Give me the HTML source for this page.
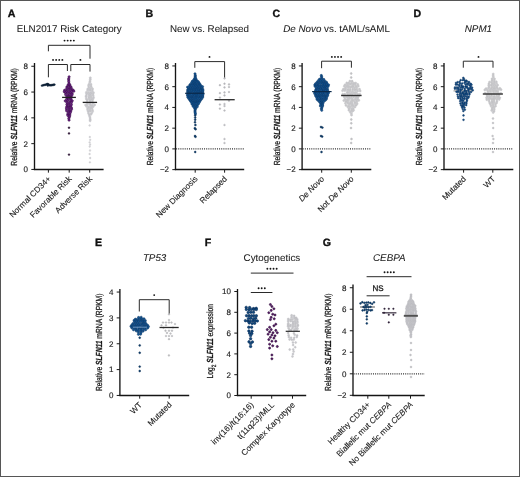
<!DOCTYPE html>
<html><head><meta charset="utf-8"><style>
html,body{margin:0;padding:0;background:#fff;width:520px;height:477px;overflow:hidden;}
svg{will-change:transform;display:block;font-family:"Liberation Sans", sans-serif;}
text{stroke:#1a1a1a;stroke-width:0.06px;text-rendering:geometricPrecision;}
text.tk{stroke-width:0.14px;}
text.xl{stroke-width:0.1px;}
text.yl{stroke-width:0.26px;}
</style></head><body>
<svg width="520" height="477" viewBox="0 0 520 477" font-family='"Liberation Sans", sans-serif'>
<rect x="0" y="0" width="520" height="477" fill="#fff"/>
<text x="7.80" y="17.40" font-size="10.6" text-anchor="start" font-weight="bold" font-style="normal" fill="#111" style="stroke-width:0.35px;stroke:#111">A</text>
<text x="145.40" y="17.40" font-size="10.6" text-anchor="start" font-weight="bold" font-style="normal" fill="#111" style="stroke-width:0.35px;stroke:#111">B</text>
<text x="272.40" y="17.40" font-size="10.6" text-anchor="start" font-weight="bold" font-style="normal" fill="#111" style="stroke-width:0.35px;stroke:#111">C</text>
<text x="413.50" y="17.40" font-size="10.6" text-anchor="start" font-weight="bold" font-style="normal" fill="#111" style="stroke-width:0.35px;stroke:#111">D</text>
<text x="95.00" y="246.10" font-size="10.6" text-anchor="start" font-weight="bold" font-style="normal" fill="#111" style="stroke-width:0.35px;stroke:#111">E</text>
<text x="204.80" y="246.10" font-size="10.6" text-anchor="start" font-weight="bold" font-style="normal" fill="#111" style="stroke-width:0.35px;stroke:#111">F</text>
<text x="322.80" y="246.10" font-size="10.6" text-anchor="start" font-weight="bold" font-style="normal" fill="#111" style="stroke-width:0.35px;stroke:#111">G</text>
<text x="69.20" y="32.40" font-size="9.8" text-anchor="middle" font-weight="normal" font-style="normal" fill="#1a1a1a">ELN2017 Risk Category</text>
<text x="209.50" y="32.40" font-size="9.8" text-anchor="middle" font-weight="normal" font-style="normal" fill="#1a1a1a">New vs. Relapsed</text>
<text x="336.60" y="32.40" font-size="9.8" text-anchor="middle" font-weight="normal" font-style="normal" fill="#1a1a1a"><tspan font-style="italic">De Novo</tspan> vs. tAML/sAML</text>
<text x="478.40" y="32.40" font-size="9.8" text-anchor="middle" font-weight="normal" font-style="italic" fill="#1a1a1a">NPM1</text>
<text x="154.60" y="261.20" font-size="9.8" text-anchor="middle" font-weight="normal" font-style="italic" fill="#1a1a1a">TP53</text>
<text x="271.90" y="261.20" font-size="9.8" text-anchor="middle" font-weight="normal" font-style="normal" fill="#1a1a1a">Cytogenetics</text>
<text x="389.30" y="261.20" font-size="9.8" text-anchor="middle" font-weight="normal" font-style="italic" fill="#1a1a1a">CEBPA</text>
<line x1="34.50" y1="63.00" x2="34.50" y2="170.05" stroke="#151515" stroke-width="1.35" />
<line x1="33.85" y1="169.45" x2="103.60" y2="169.45" stroke="#151515" stroke-width="1.35" />
<line x1="48.40" y1="169.45" x2="48.40" y2="172.65" stroke="#1a1a1a" stroke-width="1.0" />
<line x1="69.20" y1="169.45" x2="69.20" y2="172.65" stroke="#1a1a1a" stroke-width="1.0" />
<line x1="89.70" y1="169.45" x2="89.70" y2="172.65" stroke="#1a1a1a" stroke-width="1.0" />
<line x1="31.30" y1="66.25" x2="34.50" y2="66.25" stroke="#1a1a1a" stroke-width="1.0" />
<text x="28.00" y="69.10" font-size="8.0" text-anchor="end" font-weight="normal" font-style="normal" fill="#1a1a1a" class="tk">8</text>
<line x1="31.30" y1="92.05" x2="34.50" y2="92.05" stroke="#1a1a1a" stroke-width="1.0" />
<text x="28.00" y="94.90" font-size="8.0" text-anchor="end" font-weight="normal" font-style="normal" fill="#1a1a1a" class="tk">6</text>
<line x1="31.30" y1="117.85" x2="34.50" y2="117.85" stroke="#1a1a1a" stroke-width="1.0" />
<text x="28.00" y="120.70" font-size="8.0" text-anchor="end" font-weight="normal" font-style="normal" fill="#1a1a1a" class="tk">4</text>
<line x1="31.30" y1="143.65" x2="34.50" y2="143.65" stroke="#1a1a1a" stroke-width="1.0" />
<text x="28.00" y="146.50" font-size="8.0" text-anchor="end" font-weight="normal" font-style="normal" fill="#1a1a1a" class="tk">2</text>
<line x1="31.30" y1="169.45" x2="34.50" y2="169.45" stroke="#1a1a1a" stroke-width="1.0" />
<text x="28.00" y="172.30" font-size="8.0" text-anchor="end" font-weight="normal" font-style="normal" fill="#1a1a1a" class="tk">0</text>
<text x="0" y="0" font-size="8.8" text-anchor="middle" fill="#1a1a1a" class="yl" transform="translate(16.60 116.90) rotate(-90) scale(0.762 1)">Relative <tspan font-style="italic" font-weight="bold">SLFN11</tspan> mRNA (RPKM)</text>
<text x="51.40" y="179.35" font-size="8.25" text-anchor="end" fill="#1a1a1a" class="xl" transform="rotate(-45 51.40 179.35)">Normal CD34+</text>
<text x="72.20" y="179.35" font-size="8.25" text-anchor="end" fill="#1a1a1a" class="xl" transform="rotate(-45 72.20 179.35)">Favorable Risk</text>
<text x="92.70" y="179.35" font-size="8.25" text-anchor="end" fill="#1a1a1a" class="xl" transform="rotate(-45 92.70 179.35)">Adverse Risk</text>
<polyline points="48.4,51.3 48.4,45.3 90,45.3 90,58.7" fill="none" stroke="#2a2a2a" stroke-width="1.0"/>
<circle cx="64.55" cy="40.60" r="0.95" fill="#151515"/>
<circle cx="67.65" cy="40.60" r="0.95" fill="#151515"/>
<circle cx="70.75" cy="40.60" r="0.95" fill="#151515"/>
<circle cx="73.85" cy="40.60" r="0.95" fill="#151515"/>
<polyline points="48.4,77.3 48.4,64.5 67.4,64.5 67.4,71.0" fill="none" stroke="#2a2a2a" stroke-width="1.0"/>
<circle cx="53.05" cy="59.90" r="0.95" fill="#151515"/>
<circle cx="56.15" cy="59.90" r="0.95" fill="#151515"/>
<circle cx="59.25" cy="59.90" r="0.95" fill="#151515"/>
<circle cx="62.35" cy="59.90" r="0.95" fill="#151515"/>
<polyline points="70.8,71.2 70.8,64.5 90,64.5 90,71.6" fill="none" stroke="#2a2a2a" stroke-width="1.0"/>
<circle cx="80.40" cy="59.90" r="0.95" fill="#151515"/>
<circle cx="42.00" cy="85.60" r="0.95" fill="#10263e" stroke="#08182a" stroke-width="0.4"/>
<circle cx="43.20" cy="85.20" r="0.95" fill="#10263e" stroke="#08182a" stroke-width="0.4"/>
<circle cx="44.40" cy="84.90" r="0.95" fill="#10263e" stroke="#08182a" stroke-width="0.4"/>
<circle cx="45.60" cy="84.70" r="0.95" fill="#10263e" stroke="#08182a" stroke-width="0.4"/>
<circle cx="46.70" cy="84.30" r="0.95" fill="#10263e" stroke="#08182a" stroke-width="0.4"/>
<circle cx="47.60" cy="84.00" r="0.95" fill="#10263e" stroke="#08182a" stroke-width="0.4"/>
<circle cx="48.40" cy="84.40" r="0.95" fill="#10263e" stroke="#08182a" stroke-width="0.4"/>
<circle cx="49.20" cy="85.10" r="0.95" fill="#10263e" stroke="#08182a" stroke-width="0.4"/>
<circle cx="50.20" cy="85.30" r="0.95" fill="#10263e" stroke="#08182a" stroke-width="0.4"/>
<circle cx="51.30" cy="85.20" r="0.95" fill="#10263e" stroke="#08182a" stroke-width="0.4"/>
<circle cx="52.40" cy="85.00" r="0.95" fill="#10263e" stroke="#08182a" stroke-width="0.4"/>
<circle cx="53.50" cy="84.80" r="0.95" fill="#10263e" stroke="#08182a" stroke-width="0.4"/>
<circle cx="54.40" cy="84.60" r="0.95" fill="#10263e" stroke="#08182a" stroke-width="0.4"/>
<circle cx="47.80" cy="85.50" r="0.95" fill="#10263e" stroke="#08182a" stroke-width="0.4"/>
<circle cx="69.11" cy="76.82" r="1.15" fill="#6e2288" stroke="#33093f" stroke-width="0.5"/>
<circle cx="68.69" cy="78.73" r="1.15" fill="#6e2288" stroke="#33093f" stroke-width="0.5"/>
<circle cx="68.70" cy="80.03" r="1.15" fill="#6e2288" stroke="#33093f" stroke-width="0.5"/>
<circle cx="68.74" cy="81.73" r="1.15" fill="#6e2288" stroke="#33093f" stroke-width="0.5"/>
<circle cx="69.05" cy="83.45" r="1.15" fill="#6e2288" stroke="#33093f" stroke-width="0.5"/>
<circle cx="68.07" cy="84.97" r="1.15" fill="#6e2288" stroke="#33093f" stroke-width="0.5"/>
<circle cx="69.91" cy="84.99" r="1.15" fill="#6e2288" stroke="#33093f" stroke-width="0.5"/>
<circle cx="66.96" cy="86.82" r="1.15" fill="#6e2288" stroke="#33093f" stroke-width="0.5"/>
<circle cx="69.03" cy="86.41" r="1.15" fill="#6e2288" stroke="#33093f" stroke-width="0.5"/>
<circle cx="70.89" cy="86.85" r="1.15" fill="#6e2288" stroke="#33093f" stroke-width="0.5"/>
<circle cx="66.71" cy="88.29" r="1.15" fill="#6e2288" stroke="#33093f" stroke-width="0.5"/>
<circle cx="69.21" cy="88.46" r="1.15" fill="#6e2288" stroke="#33093f" stroke-width="0.5"/>
<circle cx="71.40" cy="88.34" r="1.15" fill="#6e2288" stroke="#33093f" stroke-width="0.5"/>
<circle cx="64.65" cy="90.26" r="1.15" fill="#6e2288" stroke="#33093f" stroke-width="0.5"/>
<circle cx="66.84" cy="90.10" r="1.15" fill="#6e2288" stroke="#33093f" stroke-width="0.5"/>
<circle cx="68.99" cy="89.60" r="1.15" fill="#6e2288" stroke="#33093f" stroke-width="0.5"/>
<circle cx="71.29" cy="89.97" r="1.15" fill="#6e2288" stroke="#33093f" stroke-width="0.5"/>
<circle cx="73.07" cy="90.06" r="1.15" fill="#6e2288" stroke="#33093f" stroke-width="0.5"/>
<circle cx="64.27" cy="91.76" r="1.15" fill="#6e2288" stroke="#33093f" stroke-width="0.5"/>
<circle cx="66.63" cy="91.63" r="1.15" fill="#6e2288" stroke="#33093f" stroke-width="0.5"/>
<circle cx="69.14" cy="91.62" r="1.15" fill="#6e2288" stroke="#33093f" stroke-width="0.5"/>
<circle cx="71.58" cy="91.37" r="1.15" fill="#6e2288" stroke="#33093f" stroke-width="0.5"/>
<circle cx="73.82" cy="91.19" r="1.15" fill="#6e2288" stroke="#33093f" stroke-width="0.5"/>
<circle cx="65.58" cy="92.81" r="1.15" fill="#6e2288" stroke="#33093f" stroke-width="0.5"/>
<circle cx="67.69" cy="92.94" r="1.15" fill="#6e2288" stroke="#33093f" stroke-width="0.5"/>
<circle cx="70.31" cy="92.83" r="1.15" fill="#6e2288" stroke="#33093f" stroke-width="0.5"/>
<circle cx="72.18" cy="93.39" r="1.15" fill="#6e2288" stroke="#33093f" stroke-width="0.5"/>
<circle cx="65.69" cy="94.66" r="1.15" fill="#6e2288" stroke="#33093f" stroke-width="0.5"/>
<circle cx="68.22" cy="95.04" r="1.15" fill="#6e2288" stroke="#33093f" stroke-width="0.5"/>
<circle cx="69.82" cy="94.53" r="1.15" fill="#6e2288" stroke="#33093f" stroke-width="0.5"/>
<circle cx="72.14" cy="94.78" r="1.15" fill="#6e2288" stroke="#33093f" stroke-width="0.5"/>
<circle cx="66.84" cy="96.23" r="1.15" fill="#6e2288" stroke="#33093f" stroke-width="0.5"/>
<circle cx="69.32" cy="96.45" r="1.15" fill="#6e2288" stroke="#33093f" stroke-width="0.5"/>
<circle cx="71.18" cy="96.44" r="1.15" fill="#6e2288" stroke="#33093f" stroke-width="0.5"/>
<circle cx="67.10" cy="98.18" r="1.15" fill="#6e2288" stroke="#33093f" stroke-width="0.5"/>
<circle cx="68.92" cy="97.85" r="1.15" fill="#6e2288" stroke="#33093f" stroke-width="0.5"/>
<circle cx="71.19" cy="97.61" r="1.15" fill="#6e2288" stroke="#33093f" stroke-width="0.5"/>
<circle cx="66.66" cy="99.41" r="1.15" fill="#6e2288" stroke="#33093f" stroke-width="0.5"/>
<circle cx="68.65" cy="99.28" r="1.15" fill="#6e2288" stroke="#33093f" stroke-width="0.5"/>
<circle cx="71.00" cy="99.19" r="1.15" fill="#6e2288" stroke="#33093f" stroke-width="0.5"/>
<circle cx="65.23" cy="100.95" r="1.15" fill="#6e2288" stroke="#33093f" stroke-width="0.5"/>
<circle cx="67.73" cy="100.86" r="1.15" fill="#6e2288" stroke="#33093f" stroke-width="0.5"/>
<circle cx="70.52" cy="101.10" r="1.15" fill="#6e2288" stroke="#33093f" stroke-width="0.5"/>
<circle cx="72.24" cy="100.84" r="1.15" fill="#6e2288" stroke="#33093f" stroke-width="0.5"/>
<circle cx="66.88" cy="102.48" r="1.15" fill="#6e2288" stroke="#33093f" stroke-width="0.5"/>
<circle cx="69.32" cy="102.74" r="1.15" fill="#6e2288" stroke="#33093f" stroke-width="0.5"/>
<circle cx="71.38" cy="102.39" r="1.15" fill="#6e2288" stroke="#33093f" stroke-width="0.5"/>
<circle cx="66.90" cy="104.46" r="1.15" fill="#6e2288" stroke="#33093f" stroke-width="0.5"/>
<circle cx="68.91" cy="104.09" r="1.15" fill="#6e2288" stroke="#33093f" stroke-width="0.5"/>
<circle cx="71.37" cy="104.52" r="1.15" fill="#6e2288" stroke="#33093f" stroke-width="0.5"/>
<circle cx="67.12" cy="106.26" r="1.15" fill="#6e2288" stroke="#33093f" stroke-width="0.5"/>
<circle cx="69.21" cy="106.14" r="1.15" fill="#6e2288" stroke="#33093f" stroke-width="0.5"/>
<circle cx="70.91" cy="105.93" r="1.15" fill="#6e2288" stroke="#33093f" stroke-width="0.5"/>
<circle cx="66.57" cy="107.37" r="1.15" fill="#6e2288" stroke="#33093f" stroke-width="0.5"/>
<circle cx="69.13" cy="107.84" r="1.15" fill="#6e2288" stroke="#33093f" stroke-width="0.5"/>
<circle cx="71.41" cy="107.86" r="1.15" fill="#6e2288" stroke="#33093f" stroke-width="0.5"/>
<circle cx="66.45" cy="108.93" r="1.15" fill="#6e2288" stroke="#33093f" stroke-width="0.5"/>
<circle cx="68.79" cy="109.21" r="1.15" fill="#6e2288" stroke="#33093f" stroke-width="0.5"/>
<circle cx="71.59" cy="109.11" r="1.15" fill="#6e2288" stroke="#33093f" stroke-width="0.5"/>
<circle cx="66.61" cy="110.83" r="1.15" fill="#6e2288" stroke="#33093f" stroke-width="0.5"/>
<circle cx="69.20" cy="110.90" r="1.15" fill="#6e2288" stroke="#33093f" stroke-width="0.5"/>
<circle cx="70.87" cy="110.92" r="1.15" fill="#6e2288" stroke="#33093f" stroke-width="0.5"/>
<circle cx="68.28" cy="112.25" r="1.15" fill="#6e2288" stroke="#33093f" stroke-width="0.5"/>
<circle cx="70.36" cy="112.48" r="1.15" fill="#6e2288" stroke="#33093f" stroke-width="0.5"/>
<circle cx="67.71" cy="114.20" r="1.15" fill="#6e2288" stroke="#33093f" stroke-width="0.5"/>
<circle cx="69.80" cy="114.15" r="1.15" fill="#6e2288" stroke="#33093f" stroke-width="0.5"/>
<circle cx="67.85" cy="115.55" r="1.15" fill="#6e2288" stroke="#33093f" stroke-width="0.5"/>
<circle cx="69.71" cy="115.85" r="1.15" fill="#6e2288" stroke="#33093f" stroke-width="0.5"/>
<circle cx="69.30" cy="117.07" r="1.15" fill="#6e2288" stroke="#33093f" stroke-width="0.5"/>
<circle cx="68.80" cy="118.55" r="1.15" fill="#6e2288" stroke="#33093f" stroke-width="0.5"/>
<circle cx="69.06" cy="120.15" r="1.15" fill="#6e2288" stroke="#33093f" stroke-width="0.5"/>
<circle cx="69.00" cy="127.70" r="0.9" fill="#2e1036" stroke="#1a0820" stroke-width="0.4"/>
<circle cx="69.00" cy="133.40" r="0.9" fill="#2e1036" stroke="#1a0820" stroke-width="0.4"/>
<circle cx="69.00" cy="154.60" r="0.9" fill="#2e1036" stroke="#1a0820" stroke-width="0.4"/>
<line x1="62.10" y1="97.40" x2="75.90" y2="97.40" stroke="#222" stroke-width="1.3" />
<circle cx="90.29" cy="77.78" r="1.1" fill="#cbcbce" stroke="#bdbdc1" stroke-width="0.35"/>
<circle cx="90.28" cy="79.42" r="1.1" fill="#cbcbce" stroke="#bdbdc1" stroke-width="0.35"/>
<circle cx="90.02" cy="81.10" r="1.1" fill="#cbcbce" stroke="#bdbdc1" stroke-width="0.35"/>
<circle cx="89.78" cy="82.33" r="1.1" fill="#cbcbce" stroke="#bdbdc1" stroke-width="0.35"/>
<circle cx="88.86" cy="84.44" r="1.1" fill="#cbcbce" stroke="#bdbdc1" stroke-width="0.35"/>
<circle cx="91.00" cy="84.29" r="1.1" fill="#cbcbce" stroke="#bdbdc1" stroke-width="0.35"/>
<circle cx="88.60" cy="85.92" r="1.1" fill="#cbcbce" stroke="#bdbdc1" stroke-width="0.35"/>
<circle cx="90.97" cy="86.07" r="1.1" fill="#cbcbce" stroke="#bdbdc1" stroke-width="0.35"/>
<circle cx="88.92" cy="87.77" r="1.1" fill="#cbcbce" stroke="#bdbdc1" stroke-width="0.35"/>
<circle cx="91.34" cy="87.48" r="1.1" fill="#cbcbce" stroke="#bdbdc1" stroke-width="0.35"/>
<circle cx="87.72" cy="89.10" r="1.1" fill="#cbcbce" stroke="#bdbdc1" stroke-width="0.35"/>
<circle cx="90.31" cy="89.22" r="1.1" fill="#cbcbce" stroke="#bdbdc1" stroke-width="0.35"/>
<circle cx="92.56" cy="88.91" r="1.1" fill="#cbcbce" stroke="#bdbdc1" stroke-width="0.35"/>
<circle cx="87.72" cy="90.43" r="1.1" fill="#cbcbce" stroke="#bdbdc1" stroke-width="0.35"/>
<circle cx="89.96" cy="90.38" r="1.1" fill="#cbcbce" stroke="#bdbdc1" stroke-width="0.35"/>
<circle cx="92.22" cy="90.80" r="1.1" fill="#cbcbce" stroke="#bdbdc1" stroke-width="0.35"/>
<circle cx="86.38" cy="92.43" r="1.1" fill="#cbcbce" stroke="#bdbdc1" stroke-width="0.35"/>
<circle cx="88.63" cy="92.55" r="1.1" fill="#cbcbce" stroke="#bdbdc1" stroke-width="0.35"/>
<circle cx="90.93" cy="92.60" r="1.1" fill="#cbcbce" stroke="#bdbdc1" stroke-width="0.35"/>
<circle cx="93.37" cy="92.62" r="1.1" fill="#cbcbce" stroke="#bdbdc1" stroke-width="0.35"/>
<circle cx="86.58" cy="93.89" r="1.1" fill="#cbcbce" stroke="#bdbdc1" stroke-width="0.35"/>
<circle cx="88.66" cy="93.75" r="1.1" fill="#cbcbce" stroke="#bdbdc1" stroke-width="0.35"/>
<circle cx="90.79" cy="93.92" r="1.1" fill="#cbcbce" stroke="#bdbdc1" stroke-width="0.35"/>
<circle cx="93.04" cy="93.76" r="1.1" fill="#cbcbce" stroke="#bdbdc1" stroke-width="0.35"/>
<circle cx="86.32" cy="95.82" r="1.1" fill="#cbcbce" stroke="#bdbdc1" stroke-width="0.35"/>
<circle cx="89.21" cy="95.20" r="1.1" fill="#cbcbce" stroke="#bdbdc1" stroke-width="0.35"/>
<circle cx="90.80" cy="95.68" r="1.1" fill="#cbcbce" stroke="#bdbdc1" stroke-width="0.35"/>
<circle cx="93.12" cy="95.43" r="1.1" fill="#cbcbce" stroke="#bdbdc1" stroke-width="0.35"/>
<circle cx="86.05" cy="96.83" r="1.1" fill="#cbcbce" stroke="#bdbdc1" stroke-width="0.35"/>
<circle cx="88.79" cy="97.22" r="1.1" fill="#cbcbce" stroke="#bdbdc1" stroke-width="0.35"/>
<circle cx="90.95" cy="97.21" r="1.1" fill="#cbcbce" stroke="#bdbdc1" stroke-width="0.35"/>
<circle cx="93.48" cy="97.39" r="1.1" fill="#cbcbce" stroke="#bdbdc1" stroke-width="0.35"/>
<circle cx="86.33" cy="98.93" r="1.1" fill="#cbcbce" stroke="#bdbdc1" stroke-width="0.35"/>
<circle cx="89.13" cy="98.65" r="1.1" fill="#cbcbce" stroke="#bdbdc1" stroke-width="0.35"/>
<circle cx="91.16" cy="98.98" r="1.1" fill="#cbcbce" stroke="#bdbdc1" stroke-width="0.35"/>
<circle cx="93.12" cy="98.70" r="1.1" fill="#cbcbce" stroke="#bdbdc1" stroke-width="0.35"/>
<circle cx="87.24" cy="99.97" r="1.1" fill="#cbcbce" stroke="#bdbdc1" stroke-width="0.35"/>
<circle cx="89.87" cy="100.14" r="1.1" fill="#cbcbce" stroke="#bdbdc1" stroke-width="0.35"/>
<circle cx="92.37" cy="100.28" r="1.1" fill="#cbcbce" stroke="#bdbdc1" stroke-width="0.35"/>
<circle cx="87.14" cy="101.71" r="1.1" fill="#cbcbce" stroke="#bdbdc1" stroke-width="0.35"/>
<circle cx="90.16" cy="101.92" r="1.1" fill="#cbcbce" stroke="#bdbdc1" stroke-width="0.35"/>
<circle cx="92.50" cy="102.18" r="1.1" fill="#cbcbce" stroke="#bdbdc1" stroke-width="0.35"/>
<circle cx="87.43" cy="103.48" r="1.1" fill="#cbcbce" stroke="#bdbdc1" stroke-width="0.35"/>
<circle cx="89.93" cy="103.48" r="1.1" fill="#cbcbce" stroke="#bdbdc1" stroke-width="0.35"/>
<circle cx="92.86" cy="103.37" r="1.1" fill="#cbcbce" stroke="#bdbdc1" stroke-width="0.35"/>
<circle cx="85.60" cy="105.01" r="1.1" fill="#cbcbce" stroke="#bdbdc1" stroke-width="0.35"/>
<circle cx="87.44" cy="104.82" r="1.1" fill="#cbcbce" stroke="#bdbdc1" stroke-width="0.35"/>
<circle cx="90.17" cy="104.91" r="1.1" fill="#cbcbce" stroke="#bdbdc1" stroke-width="0.35"/>
<circle cx="91.96" cy="105.32" r="1.1" fill="#cbcbce" stroke="#bdbdc1" stroke-width="0.35"/>
<circle cx="94.62" cy="104.93" r="1.1" fill="#cbcbce" stroke="#bdbdc1" stroke-width="0.35"/>
<circle cx="86.60" cy="106.44" r="1.1" fill="#cbcbce" stroke="#bdbdc1" stroke-width="0.35"/>
<circle cx="88.71" cy="107.00" r="1.1" fill="#cbcbce" stroke="#bdbdc1" stroke-width="0.35"/>
<circle cx="91.16" cy="106.50" r="1.1" fill="#cbcbce" stroke="#bdbdc1" stroke-width="0.35"/>
<circle cx="93.24" cy="106.58" r="1.1" fill="#cbcbce" stroke="#bdbdc1" stroke-width="0.35"/>
<circle cx="87.73" cy="108.28" r="1.1" fill="#cbcbce" stroke="#bdbdc1" stroke-width="0.35"/>
<circle cx="90.00" cy="107.93" r="1.1" fill="#cbcbce" stroke="#bdbdc1" stroke-width="0.35"/>
<circle cx="91.96" cy="108.21" r="1.1" fill="#cbcbce" stroke="#bdbdc1" stroke-width="0.35"/>
<circle cx="87.61" cy="109.69" r="1.1" fill="#cbcbce" stroke="#bdbdc1" stroke-width="0.35"/>
<circle cx="90.02" cy="110.06" r="1.1" fill="#cbcbce" stroke="#bdbdc1" stroke-width="0.35"/>
<circle cx="92.40" cy="110.15" r="1.1" fill="#cbcbce" stroke="#bdbdc1" stroke-width="0.35"/>
<circle cx="88.09" cy="111.23" r="1.1" fill="#cbcbce" stroke="#bdbdc1" stroke-width="0.35"/>
<circle cx="90.10" cy="111.16" r="1.1" fill="#cbcbce" stroke="#bdbdc1" stroke-width="0.35"/>
<circle cx="92.52" cy="111.57" r="1.1" fill="#cbcbce" stroke="#bdbdc1" stroke-width="0.35"/>
<circle cx="88.49" cy="113.10" r="1.1" fill="#cbcbce" stroke="#bdbdc1" stroke-width="0.35"/>
<circle cx="91.49" cy="113.29" r="1.1" fill="#cbcbce" stroke="#bdbdc1" stroke-width="0.35"/>
<circle cx="89.15" cy="114.81" r="1.1" fill="#cbcbce" stroke="#bdbdc1" stroke-width="0.35"/>
<circle cx="90.94" cy="114.35" r="1.1" fill="#cbcbce" stroke="#bdbdc1" stroke-width="0.35"/>
<circle cx="89.72" cy="116.52" r="1.1" fill="#cbcbce" stroke="#bdbdc1" stroke-width="0.35"/>
<circle cx="90.09" cy="118.01" r="1.1" fill="#cbcbce" stroke="#bdbdc1" stroke-width="0.35"/>
<circle cx="90.21" cy="119.65" r="1.1" fill="#cbcbce" stroke="#bdbdc1" stroke-width="0.35"/>
<circle cx="90.11" cy="120.78" r="1.1" fill="#cbcbce" stroke="#bdbdc1" stroke-width="0.35"/>
<circle cx="89.60" cy="125.40" r="0.9" fill="#d2d2d5" stroke="#c8c8cb" stroke-width="0.3"/>
<circle cx="89.80" cy="137.00" r="0.9" fill="#d2d2d5" stroke="#c8c8cb" stroke-width="0.3"/>
<circle cx="90.20" cy="139.80" r="0.9" fill="#d2d2d5" stroke="#c8c8cb" stroke-width="0.3"/>
<circle cx="89.60" cy="142.30" r="0.9" fill="#d2d2d5" stroke="#c8c8cb" stroke-width="0.3"/>
<circle cx="90.10" cy="144.50" r="0.9" fill="#d2d2d5" stroke="#c8c8cb" stroke-width="0.3"/>
<circle cx="89.70" cy="146.50" r="0.9" fill="#d2d2d5" stroke="#c8c8cb" stroke-width="0.3"/>
<circle cx="90.00" cy="150.50" r="0.9" fill="#d2d2d5" stroke="#c8c8cb" stroke-width="0.3"/>
<circle cx="89.60" cy="154.00" r="0.9" fill="#d2d2d5" stroke="#c8c8cb" stroke-width="0.3"/>
<circle cx="90.20" cy="158.00" r="0.9" fill="#d2d2d5" stroke="#c8c8cb" stroke-width="0.3"/>
<circle cx="89.90" cy="162.30" r="0.9" fill="#d2d2d5" stroke="#c8c8cb" stroke-width="0.3"/>
<line x1="82.70" y1="102.40" x2="97.10" y2="102.40" stroke="#222" stroke-width="1.3" />
<line x1="175.50" y1="63.00" x2="175.50" y2="170.10" stroke="#151515" stroke-width="1.35" />
<line x1="174.85" y1="169.50" x2="244.20" y2="169.50" stroke="#151515" stroke-width="1.35" />
<line x1="195.20" y1="169.50" x2="195.20" y2="172.70" stroke="#1a1a1a" stroke-width="1.0" />
<line x1="224.60" y1="169.50" x2="224.60" y2="172.70" stroke="#1a1a1a" stroke-width="1.0" />
<line x1="172.30" y1="65.94" x2="175.50" y2="65.94" stroke="#1a1a1a" stroke-width="1.0" />
<text x="169.00" y="68.79" font-size="8.0" text-anchor="end" font-weight="normal" font-style="normal" fill="#1a1a1a" class="tk">8</text>
<line x1="172.30" y1="86.68" x2="175.50" y2="86.68" stroke="#1a1a1a" stroke-width="1.0" />
<text x="169.00" y="89.53" font-size="8.0" text-anchor="end" font-weight="normal" font-style="normal" fill="#1a1a1a" class="tk">6</text>
<line x1="172.30" y1="107.42" x2="175.50" y2="107.42" stroke="#1a1a1a" stroke-width="1.0" />
<text x="169.00" y="110.27" font-size="8.0" text-anchor="end" font-weight="normal" font-style="normal" fill="#1a1a1a" class="tk">4</text>
<line x1="172.30" y1="128.16" x2="175.50" y2="128.16" stroke="#1a1a1a" stroke-width="1.0" />
<text x="169.00" y="131.01" font-size="8.0" text-anchor="end" font-weight="normal" font-style="normal" fill="#1a1a1a" class="tk">2</text>
<line x1="172.30" y1="148.90" x2="175.50" y2="148.90" stroke="#1a1a1a" stroke-width="1.0" />
<text x="169.00" y="151.75" font-size="8.0" text-anchor="end" font-weight="normal" font-style="normal" fill="#1a1a1a" class="tk">0</text>
<line x1="172.30" y1="169.64" x2="175.50" y2="169.64" stroke="#1a1a1a" stroke-width="1.0" />
<text x="169.00" y="172.49" font-size="8.0" text-anchor="end" font-weight="normal" font-style="normal" fill="#1a1a1a" class="tk">−2</text>
<text x="0" y="0" font-size="8.8" text-anchor="middle" fill="#1a1a1a" class="yl" transform="translate(153.40 116.60) rotate(-90) scale(0.762 1)">Relative <tspan font-style="italic" font-weight="bold">SLFN11</tspan> mRNA (RPKM)</text>
<line x1="176.10" y1="148.90" x2="244.20" y2="148.90" stroke="#2e2e2e" stroke-width="1.3"  stroke-dasharray="1.0 1.15"/>
<text x="198.20" y="179.40" font-size="8.25" text-anchor="end" fill="#1a1a1a" class="xl" transform="rotate(-45 198.20 179.40)">New Diagnosis</text>
<text x="227.60" y="179.40" font-size="8.25" text-anchor="end" fill="#1a1a1a" class="xl" transform="rotate(-45 227.60 179.40)">Relapsed</text>
<polyline points="194.8,67.8 194.8,61.6 224.6,61.6 224.6,78.3" fill="none" stroke="#2a2a2a" stroke-width="1.0"/>
<circle cx="209.50" cy="56.90" r="0.95" fill="#151515"/>
<circle cx="194.99" cy="73.80" r="1.15" fill="#145694" stroke="#0a3462" stroke-width="0.5"/>
<circle cx="195.32" cy="75.46" r="1.15" fill="#145694" stroke="#0a3462" stroke-width="0.5"/>
<circle cx="195.19" cy="76.61" r="1.15" fill="#145694" stroke="#0a3462" stroke-width="0.5"/>
<circle cx="195.27" cy="77.61" r="1.15" fill="#145694" stroke="#0a3462" stroke-width="0.5"/>
<circle cx="194.37" cy="79.02" r="1.15" fill="#145694" stroke="#0a3462" stroke-width="0.5"/>
<circle cx="195.91" cy="78.90" r="1.15" fill="#145694" stroke="#0a3462" stroke-width="0.5"/>
<circle cx="193.40" cy="80.51" r="1.15" fill="#145694" stroke="#0a3462" stroke-width="0.5"/>
<circle cx="195.21" cy="80.40" r="1.15" fill="#145694" stroke="#0a3462" stroke-width="0.5"/>
<circle cx="196.91" cy="80.62" r="1.15" fill="#145694" stroke="#0a3462" stroke-width="0.5"/>
<circle cx="192.23" cy="81.48" r="1.15" fill="#145694" stroke="#0a3462" stroke-width="0.5"/>
<circle cx="194.30" cy="81.95" r="1.15" fill="#145694" stroke="#0a3462" stroke-width="0.5"/>
<circle cx="196.15" cy="81.57" r="1.15" fill="#145694" stroke="#0a3462" stroke-width="0.5"/>
<circle cx="198.25" cy="81.76" r="1.15" fill="#145694" stroke="#0a3462" stroke-width="0.5"/>
<circle cx="191.63" cy="82.84" r="1.15" fill="#145694" stroke="#0a3462" stroke-width="0.5"/>
<circle cx="193.30" cy="83.21" r="1.15" fill="#145694" stroke="#0a3462" stroke-width="0.5"/>
<circle cx="195.07" cy="83.22" r="1.15" fill="#145694" stroke="#0a3462" stroke-width="0.5"/>
<circle cx="196.86" cy="82.77" r="1.15" fill="#145694" stroke="#0a3462" stroke-width="0.5"/>
<circle cx="198.98" cy="82.92" r="1.15" fill="#145694" stroke="#0a3462" stroke-width="0.5"/>
<circle cx="190.36" cy="84.49" r="1.15" fill="#145694" stroke="#0a3462" stroke-width="0.5"/>
<circle cx="192.48" cy="84.49" r="1.15" fill="#145694" stroke="#0a3462" stroke-width="0.5"/>
<circle cx="194.46" cy="84.43" r="1.15" fill="#145694" stroke="#0a3462" stroke-width="0.5"/>
<circle cx="196.04" cy="84.26" r="1.15" fill="#145694" stroke="#0a3462" stroke-width="0.5"/>
<circle cx="198.30" cy="84.36" r="1.15" fill="#145694" stroke="#0a3462" stroke-width="0.5"/>
<circle cx="199.91" cy="84.21" r="1.15" fill="#145694" stroke="#0a3462" stroke-width="0.5"/>
<circle cx="189.67" cy="85.51" r="1.15" fill="#145694" stroke="#0a3462" stroke-width="0.5"/>
<circle cx="191.27" cy="85.50" r="1.15" fill="#145694" stroke="#0a3462" stroke-width="0.5"/>
<circle cx="193.14" cy="85.56" r="1.15" fill="#145694" stroke="#0a3462" stroke-width="0.5"/>
<circle cx="195.39" cy="85.78" r="1.15" fill="#145694" stroke="#0a3462" stroke-width="0.5"/>
<circle cx="197.31" cy="85.84" r="1.15" fill="#145694" stroke="#0a3462" stroke-width="0.5"/>
<circle cx="199.11" cy="85.39" r="1.15" fill="#145694" stroke="#0a3462" stroke-width="0.5"/>
<circle cx="200.88" cy="85.75" r="1.15" fill="#145694" stroke="#0a3462" stroke-width="0.5"/>
<circle cx="187.61" cy="87.13" r="1.15" fill="#145694" stroke="#0a3462" stroke-width="0.5"/>
<circle cx="189.93" cy="86.84" r="1.15" fill="#145694" stroke="#0a3462" stroke-width="0.5"/>
<circle cx="192.16" cy="87.16" r="1.15" fill="#145694" stroke="#0a3462" stroke-width="0.5"/>
<circle cx="194.23" cy="86.82" r="1.15" fill="#145694" stroke="#0a3462" stroke-width="0.5"/>
<circle cx="196.20" cy="86.75" r="1.15" fill="#145694" stroke="#0a3462" stroke-width="0.5"/>
<circle cx="198.21" cy="87.12" r="1.15" fill="#145694" stroke="#0a3462" stroke-width="0.5"/>
<circle cx="200.32" cy="87.12" r="1.15" fill="#145694" stroke="#0a3462" stroke-width="0.5"/>
<circle cx="202.54" cy="86.74" r="1.15" fill="#145694" stroke="#0a3462" stroke-width="0.5"/>
<circle cx="188.47" cy="88.02" r="1.15" fill="#145694" stroke="#0a3462" stroke-width="0.5"/>
<circle cx="190.33" cy="88.25" r="1.15" fill="#145694" stroke="#0a3462" stroke-width="0.5"/>
<circle cx="192.47" cy="88.18" r="1.15" fill="#145694" stroke="#0a3462" stroke-width="0.5"/>
<circle cx="194.26" cy="88.16" r="1.15" fill="#145694" stroke="#0a3462" stroke-width="0.5"/>
<circle cx="195.93" cy="88.11" r="1.15" fill="#145694" stroke="#0a3462" stroke-width="0.5"/>
<circle cx="197.86" cy="88.22" r="1.15" fill="#145694" stroke="#0a3462" stroke-width="0.5"/>
<circle cx="200.13" cy="88.08" r="1.15" fill="#145694" stroke="#0a3462" stroke-width="0.5"/>
<circle cx="201.72" cy="88.17" r="1.15" fill="#145694" stroke="#0a3462" stroke-width="0.5"/>
<circle cx="187.77" cy="89.71" r="1.15" fill="#145694" stroke="#0a3462" stroke-width="0.5"/>
<circle cx="189.27" cy="89.62" r="1.15" fill="#145694" stroke="#0a3462" stroke-width="0.5"/>
<circle cx="191.39" cy="89.56" r="1.15" fill="#145694" stroke="#0a3462" stroke-width="0.5"/>
<circle cx="193.25" cy="89.73" r="1.15" fill="#145694" stroke="#0a3462" stroke-width="0.5"/>
<circle cx="195.38" cy="89.76" r="1.15" fill="#145694" stroke="#0a3462" stroke-width="0.5"/>
<circle cx="196.90" cy="89.35" r="1.15" fill="#145694" stroke="#0a3462" stroke-width="0.5"/>
<circle cx="199.09" cy="89.74" r="1.15" fill="#145694" stroke="#0a3462" stroke-width="0.5"/>
<circle cx="200.97" cy="89.65" r="1.15" fill="#145694" stroke="#0a3462" stroke-width="0.5"/>
<circle cx="202.83" cy="89.29" r="1.15" fill="#145694" stroke="#0a3462" stroke-width="0.5"/>
<circle cx="187.81" cy="90.89" r="1.15" fill="#145694" stroke="#0a3462" stroke-width="0.5"/>
<circle cx="189.31" cy="90.70" r="1.15" fill="#145694" stroke="#0a3462" stroke-width="0.5"/>
<circle cx="191.50" cy="90.63" r="1.15" fill="#145694" stroke="#0a3462" stroke-width="0.5"/>
<circle cx="193.31" cy="90.86" r="1.15" fill="#145694" stroke="#0a3462" stroke-width="0.5"/>
<circle cx="195.06" cy="90.87" r="1.15" fill="#145694" stroke="#0a3462" stroke-width="0.5"/>
<circle cx="197.00" cy="90.80" r="1.15" fill="#145694" stroke="#0a3462" stroke-width="0.5"/>
<circle cx="199.07" cy="91.01" r="1.15" fill="#145694" stroke="#0a3462" stroke-width="0.5"/>
<circle cx="200.77" cy="90.69" r="1.15" fill="#145694" stroke="#0a3462" stroke-width="0.5"/>
<circle cx="202.90" cy="90.72" r="1.15" fill="#145694" stroke="#0a3462" stroke-width="0.5"/>
<circle cx="187.69" cy="92.08" r="1.15" fill="#145694" stroke="#0a3462" stroke-width="0.5"/>
<circle cx="189.58" cy="92.33" r="1.15" fill="#145694" stroke="#0a3462" stroke-width="0.5"/>
<circle cx="191.17" cy="92.04" r="1.15" fill="#145694" stroke="#0a3462" stroke-width="0.5"/>
<circle cx="193.39" cy="91.97" r="1.15" fill="#145694" stroke="#0a3462" stroke-width="0.5"/>
<circle cx="195.32" cy="92.12" r="1.15" fill="#145694" stroke="#0a3462" stroke-width="0.5"/>
<circle cx="197.33" cy="92.03" r="1.15" fill="#145694" stroke="#0a3462" stroke-width="0.5"/>
<circle cx="198.87" cy="91.98" r="1.15" fill="#145694" stroke="#0a3462" stroke-width="0.5"/>
<circle cx="200.80" cy="92.35" r="1.15" fill="#145694" stroke="#0a3462" stroke-width="0.5"/>
<circle cx="202.64" cy="91.98" r="1.15" fill="#145694" stroke="#0a3462" stroke-width="0.5"/>
<circle cx="187.82" cy="93.24" r="1.15" fill="#145694" stroke="#0a3462" stroke-width="0.5"/>
<circle cx="189.36" cy="93.66" r="1.15" fill="#145694" stroke="#0a3462" stroke-width="0.5"/>
<circle cx="191.18" cy="93.20" r="1.15" fill="#145694" stroke="#0a3462" stroke-width="0.5"/>
<circle cx="193.50" cy="93.61" r="1.15" fill="#145694" stroke="#0a3462" stroke-width="0.5"/>
<circle cx="195.45" cy="93.64" r="1.15" fill="#145694" stroke="#0a3462" stroke-width="0.5"/>
<circle cx="196.94" cy="93.64" r="1.15" fill="#145694" stroke="#0a3462" stroke-width="0.5"/>
<circle cx="198.77" cy="93.50" r="1.15" fill="#145694" stroke="#0a3462" stroke-width="0.5"/>
<circle cx="200.84" cy="93.34" r="1.15" fill="#145694" stroke="#0a3462" stroke-width="0.5"/>
<circle cx="202.55" cy="93.31" r="1.15" fill="#145694" stroke="#0a3462" stroke-width="0.5"/>
<circle cx="187.41" cy="94.95" r="1.15" fill="#145694" stroke="#0a3462" stroke-width="0.5"/>
<circle cx="189.43" cy="94.88" r="1.15" fill="#145694" stroke="#0a3462" stroke-width="0.5"/>
<circle cx="191.37" cy="94.49" r="1.15" fill="#145694" stroke="#0a3462" stroke-width="0.5"/>
<circle cx="193.24" cy="94.93" r="1.15" fill="#145694" stroke="#0a3462" stroke-width="0.5"/>
<circle cx="195.13" cy="94.92" r="1.15" fill="#145694" stroke="#0a3462" stroke-width="0.5"/>
<circle cx="197.06" cy="94.88" r="1.15" fill="#145694" stroke="#0a3462" stroke-width="0.5"/>
<circle cx="198.77" cy="94.49" r="1.15" fill="#145694" stroke="#0a3462" stroke-width="0.5"/>
<circle cx="201.11" cy="94.60" r="1.15" fill="#145694" stroke="#0a3462" stroke-width="0.5"/>
<circle cx="203.00" cy="94.64" r="1.15" fill="#145694" stroke="#0a3462" stroke-width="0.5"/>
<circle cx="187.97" cy="95.90" r="1.15" fill="#145694" stroke="#0a3462" stroke-width="0.5"/>
<circle cx="189.90" cy="95.91" r="1.15" fill="#145694" stroke="#0a3462" stroke-width="0.5"/>
<circle cx="192.21" cy="96.23" r="1.15" fill="#145694" stroke="#0a3462" stroke-width="0.5"/>
<circle cx="194.38" cy="95.78" r="1.15" fill="#145694" stroke="#0a3462" stroke-width="0.5"/>
<circle cx="196.23" cy="96.25" r="1.15" fill="#145694" stroke="#0a3462" stroke-width="0.5"/>
<circle cx="198.27" cy="95.90" r="1.15" fill="#145694" stroke="#0a3462" stroke-width="0.5"/>
<circle cx="200.40" cy="96.23" r="1.15" fill="#145694" stroke="#0a3462" stroke-width="0.5"/>
<circle cx="202.64" cy="96.14" r="1.15" fill="#145694" stroke="#0a3462" stroke-width="0.5"/>
<circle cx="187.83" cy="97.23" r="1.15" fill="#145694" stroke="#0a3462" stroke-width="0.5"/>
<circle cx="189.83" cy="97.46" r="1.15" fill="#145694" stroke="#0a3462" stroke-width="0.5"/>
<circle cx="191.87" cy="97.45" r="1.15" fill="#145694" stroke="#0a3462" stroke-width="0.5"/>
<circle cx="193.92" cy="97.09" r="1.15" fill="#145694" stroke="#0a3462" stroke-width="0.5"/>
<circle cx="196.17" cy="97.56" r="1.15" fill="#145694" stroke="#0a3462" stroke-width="0.5"/>
<circle cx="198.62" cy="97.20" r="1.15" fill="#145694" stroke="#0a3462" stroke-width="0.5"/>
<circle cx="200.30" cy="97.32" r="1.15" fill="#145694" stroke="#0a3462" stroke-width="0.5"/>
<circle cx="202.59" cy="97.19" r="1.15" fill="#145694" stroke="#0a3462" stroke-width="0.5"/>
<circle cx="188.90" cy="98.74" r="1.15" fill="#145694" stroke="#0a3462" stroke-width="0.5"/>
<circle cx="191.03" cy="98.43" r="1.15" fill="#145694" stroke="#0a3462" stroke-width="0.5"/>
<circle cx="192.97" cy="98.65" r="1.15" fill="#145694" stroke="#0a3462" stroke-width="0.5"/>
<circle cx="195.32" cy="98.47" r="1.15" fill="#145694" stroke="#0a3462" stroke-width="0.5"/>
<circle cx="197.20" cy="98.45" r="1.15" fill="#145694" stroke="#0a3462" stroke-width="0.5"/>
<circle cx="199.50" cy="98.53" r="1.15" fill="#145694" stroke="#0a3462" stroke-width="0.5"/>
<circle cx="201.83" cy="98.62" r="1.15" fill="#145694" stroke="#0a3462" stroke-width="0.5"/>
<circle cx="189.96" cy="100.17" r="1.15" fill="#145694" stroke="#0a3462" stroke-width="0.5"/>
<circle cx="192.00" cy="100.08" r="1.15" fill="#145694" stroke="#0a3462" stroke-width="0.5"/>
<circle cx="194.34" cy="99.69" r="1.15" fill="#145694" stroke="#0a3462" stroke-width="0.5"/>
<circle cx="196.07" cy="99.76" r="1.15" fill="#145694" stroke="#0a3462" stroke-width="0.5"/>
<circle cx="198.43" cy="100.14" r="1.15" fill="#145694" stroke="#0a3462" stroke-width="0.5"/>
<circle cx="200.70" cy="99.89" r="1.15" fill="#145694" stroke="#0a3462" stroke-width="0.5"/>
<circle cx="190.67" cy="101.02" r="1.15" fill="#145694" stroke="#0a3462" stroke-width="0.5"/>
<circle cx="192.41" cy="101.08" r="1.15" fill="#145694" stroke="#0a3462" stroke-width="0.5"/>
<circle cx="194.07" cy="101.07" r="1.15" fill="#145694" stroke="#0a3462" stroke-width="0.5"/>
<circle cx="196.20" cy="101.30" r="1.15" fill="#145694" stroke="#0a3462" stroke-width="0.5"/>
<circle cx="197.81" cy="101.13" r="1.15" fill="#145694" stroke="#0a3462" stroke-width="0.5"/>
<circle cx="199.79" cy="101.13" r="1.15" fill="#145694" stroke="#0a3462" stroke-width="0.5"/>
<circle cx="191.42" cy="102.30" r="1.15" fill="#145694" stroke="#0a3462" stroke-width="0.5"/>
<circle cx="193.25" cy="102.55" r="1.15" fill="#145694" stroke="#0a3462" stroke-width="0.5"/>
<circle cx="195.00" cy="102.35" r="1.15" fill="#145694" stroke="#0a3462" stroke-width="0.5"/>
<circle cx="197.05" cy="102.41" r="1.15" fill="#145694" stroke="#0a3462" stroke-width="0.5"/>
<circle cx="199.23" cy="102.43" r="1.15" fill="#145694" stroke="#0a3462" stroke-width="0.5"/>
<circle cx="191.97" cy="104.00" r="1.15" fill="#145694" stroke="#0a3462" stroke-width="0.5"/>
<circle cx="194.07" cy="103.67" r="1.15" fill="#145694" stroke="#0a3462" stroke-width="0.5"/>
<circle cx="196.12" cy="103.57" r="1.15" fill="#145694" stroke="#0a3462" stroke-width="0.5"/>
<circle cx="198.35" cy="103.98" r="1.15" fill="#145694" stroke="#0a3462" stroke-width="0.5"/>
<circle cx="193.05" cy="104.95" r="1.15" fill="#145694" stroke="#0a3462" stroke-width="0.5"/>
<circle cx="195.23" cy="105.19" r="1.15" fill="#145694" stroke="#0a3462" stroke-width="0.5"/>
<circle cx="197.12" cy="105.18" r="1.15" fill="#145694" stroke="#0a3462" stroke-width="0.5"/>
<circle cx="193.12" cy="106.31" r="1.15" fill="#145694" stroke="#0a3462" stroke-width="0.5"/>
<circle cx="195.41" cy="106.22" r="1.15" fill="#145694" stroke="#0a3462" stroke-width="0.5"/>
<circle cx="197.25" cy="106.65" r="1.15" fill="#145694" stroke="#0a3462" stroke-width="0.5"/>
<circle cx="194.47" cy="107.96" r="1.15" fill="#145694" stroke="#0a3462" stroke-width="0.5"/>
<circle cx="195.93" cy="107.93" r="1.15" fill="#145694" stroke="#0a3462" stroke-width="0.5"/>
<circle cx="195.26" cy="109.18" r="1.15" fill="#145694" stroke="#0a3462" stroke-width="0.5"/>
<circle cx="195.06" cy="110.27" r="1.15" fill="#145694" stroke="#0a3462" stroke-width="0.5"/>
<circle cx="195.04" cy="111.48" r="1.15" fill="#145694" stroke="#0a3462" stroke-width="0.5"/>
<circle cx="195.14" cy="112.73" r="1.15" fill="#145694" stroke="#0a3462" stroke-width="0.5"/>
<circle cx="195.40" cy="113.99" r="1.15" fill="#145694" stroke="#0a3462" stroke-width="0.5"/>
<circle cx="195.20" cy="115.50" r="0.95" fill="#0e3f72" stroke="#072848" stroke-width="0.45"/>
<circle cx="195.20" cy="117.60" r="0.95" fill="#0e3f72" stroke="#072848" stroke-width="0.45"/>
<circle cx="195.20" cy="119.70" r="0.95" fill="#0e3f72" stroke="#072848" stroke-width="0.45"/>
<circle cx="195.00" cy="122.30" r="0.95" fill="#0e3f72" stroke="#072848" stroke-width="0.45"/>
<circle cx="195.40" cy="125.00" r="0.95" fill="#0e3f72" stroke="#072848" stroke-width="0.45"/>
<circle cx="194.80" cy="128.20" r="0.95" fill="#0e3f72" stroke="#072848" stroke-width="0.45"/>
<circle cx="195.60" cy="129.20" r="0.95" fill="#0e3f72" stroke="#072848" stroke-width="0.45"/>
<circle cx="195.00" cy="136.00" r="0.95" fill="#0e3f72" stroke="#072848" stroke-width="0.45"/>
<circle cx="195.50" cy="136.80" r="0.95" fill="#0e3f72" stroke="#072848" stroke-width="0.45"/>
<circle cx="195.20" cy="152.00" r="0.95" fill="#0e3f72" stroke="#072848" stroke-width="0.45"/>
<line x1="185.10" y1="93.30" x2="204.60" y2="93.30" stroke="#0a2a4c" stroke-width="1.2" />
<circle cx="224.50" cy="78.40" r="0.85" fill="#b9b9bc" stroke="#aeaeb2" stroke-width="0.4"/>
<circle cx="224.50" cy="83.70" r="0.85" fill="#b9b9bc" stroke="#aeaeb2" stroke-width="0.4"/>
<circle cx="224.50" cy="87.40" r="0.85" fill="#b9b9bc" stroke="#aeaeb2" stroke-width="0.4"/>
<circle cx="224.50" cy="92.40" r="0.85" fill="#b9b9bc" stroke="#aeaeb2" stroke-width="0.4"/>
<circle cx="224.50" cy="95.40" r="0.85" fill="#b9b9bc" stroke="#aeaeb2" stroke-width="0.4"/>
<circle cx="224.50" cy="104.00" r="0.85" fill="#b9b9bc" stroke="#aeaeb2" stroke-width="0.4"/>
<circle cx="224.50" cy="106.00" r="0.85" fill="#b9b9bc" stroke="#aeaeb2" stroke-width="0.4"/>
<circle cx="224.50" cy="110.50" r="0.85" fill="#b9b9bc" stroke="#aeaeb2" stroke-width="0.4"/>
<circle cx="224.50" cy="125.00" r="0.85" fill="#b9b9bc" stroke="#aeaeb2" stroke-width="0.4"/>
<circle cx="224.50" cy="139.00" r="0.85" fill="#b9b9bc" stroke="#aeaeb2" stroke-width="0.4"/>
<circle cx="224.50" cy="143.00" r="0.85" fill="#b9b9bc" stroke="#aeaeb2" stroke-width="0.4"/>
<circle cx="219.90" cy="85.20" r="0.85" fill="#b9b9bc" stroke="#aeaeb2" stroke-width="0.4"/>
<circle cx="219.90" cy="93.10" r="0.85" fill="#b9b9bc" stroke="#aeaeb2" stroke-width="0.4"/>
<circle cx="219.90" cy="97.60" r="0.85" fill="#b9b9bc" stroke="#aeaeb2" stroke-width="0.4"/>
<circle cx="219.90" cy="104.50" r="0.85" fill="#b9b9bc" stroke="#aeaeb2" stroke-width="0.4"/>
<circle cx="219.90" cy="108.60" r="0.85" fill="#b9b9bc" stroke="#aeaeb2" stroke-width="0.4"/>
<circle cx="229.00" cy="84.40" r="0.85" fill="#b9b9bc" stroke="#aeaeb2" stroke-width="0.4"/>
<circle cx="229.00" cy="87.00" r="0.85" fill="#b9b9bc" stroke="#aeaeb2" stroke-width="0.4"/>
<circle cx="229.00" cy="92.00" r="0.85" fill="#b9b9bc" stroke="#aeaeb2" stroke-width="0.4"/>
<circle cx="229.00" cy="100.70" r="0.85" fill="#b9b9bc" stroke="#aeaeb2" stroke-width="0.4"/>
<line x1="214.60" y1="99.70" x2="234.70" y2="99.70" stroke="#2a2a2a" stroke-width="1.3" />
<line x1="302.10" y1="63.00" x2="302.10" y2="170.10" stroke="#151515" stroke-width="1.35" />
<line x1="301.45" y1="169.50" x2="371.30" y2="169.50" stroke="#151515" stroke-width="1.35" />
<line x1="321.70" y1="169.50" x2="321.70" y2="172.70" stroke="#1a1a1a" stroke-width="1.0" />
<line x1="351.30" y1="169.50" x2="351.30" y2="172.70" stroke="#1a1a1a" stroke-width="1.0" />
<line x1="298.90" y1="65.94" x2="302.10" y2="65.94" stroke="#1a1a1a" stroke-width="1.0" />
<text x="295.60" y="68.79" font-size="8.0" text-anchor="end" font-weight="normal" font-style="normal" fill="#1a1a1a" class="tk">8</text>
<line x1="298.90" y1="86.68" x2="302.10" y2="86.68" stroke="#1a1a1a" stroke-width="1.0" />
<text x="295.60" y="89.53" font-size="8.0" text-anchor="end" font-weight="normal" font-style="normal" fill="#1a1a1a" class="tk">6</text>
<line x1="298.90" y1="107.42" x2="302.10" y2="107.42" stroke="#1a1a1a" stroke-width="1.0" />
<text x="295.60" y="110.27" font-size="8.0" text-anchor="end" font-weight="normal" font-style="normal" fill="#1a1a1a" class="tk">4</text>
<line x1="298.90" y1="128.16" x2="302.10" y2="128.16" stroke="#1a1a1a" stroke-width="1.0" />
<text x="295.60" y="131.01" font-size="8.0" text-anchor="end" font-weight="normal" font-style="normal" fill="#1a1a1a" class="tk">2</text>
<line x1="298.90" y1="148.90" x2="302.10" y2="148.90" stroke="#1a1a1a" stroke-width="1.0" />
<text x="295.60" y="151.75" font-size="8.0" text-anchor="end" font-weight="normal" font-style="normal" fill="#1a1a1a" class="tk">0</text>
<line x1="298.90" y1="169.64" x2="302.10" y2="169.64" stroke="#1a1a1a" stroke-width="1.0" />
<text x="295.60" y="172.49" font-size="8.0" text-anchor="end" font-weight="normal" font-style="normal" fill="#1a1a1a" class="tk">−2</text>
<text x="0" y="0" font-size="8.8" text-anchor="middle" fill="#1a1a1a" class="yl" transform="translate(279.60 116.60) rotate(-90) scale(0.762 1)">Relative <tspan font-style="italic" font-weight="bold">SLFN11</tspan> mRNA (RPKM)</text>
<line x1="302.70" y1="148.90" x2="371.30" y2="148.90" stroke="#2e2e2e" stroke-width="1.3"  stroke-dasharray="1.0 1.15"/>
<text x="324.70" y="179.40" font-size="8.25" text-anchor="end" fill="#1a1a1a" class="xl" transform="rotate(-45 324.70 179.40)"><tspan font-style="italic">De Novo</tspan></text>
<text x="354.30" y="179.40" font-size="8.25" text-anchor="end" fill="#1a1a1a" class="xl" transform="rotate(-45 354.30 179.40)">Not <tspan font-style="italic">De Novo</tspan></text>
<polyline points="321.6,68.2 321.6,61.2 351.4,61.2 351.4,67.7" fill="none" stroke="#2a2a2a" stroke-width="1.0"/>
<circle cx="331.85" cy="56.90" r="0.95" fill="#151515"/>
<circle cx="334.95" cy="56.90" r="0.95" fill="#151515"/>
<circle cx="338.05" cy="56.90" r="0.95" fill="#151515"/>
<circle cx="341.15" cy="56.90" r="0.95" fill="#151515"/>
<circle cx="321.32" cy="75.52" r="1.15" fill="#145694" stroke="#0a3462" stroke-width="0.5"/>
<circle cx="321.63" cy="76.80" r="1.15" fill="#145694" stroke="#0a3462" stroke-width="0.5"/>
<circle cx="321.65" cy="78.08" r="1.15" fill="#145694" stroke="#0a3462" stroke-width="0.5"/>
<circle cx="319.56" cy="79.23" r="1.15" fill="#145694" stroke="#0a3462" stroke-width="0.5"/>
<circle cx="321.59" cy="79.36" r="1.15" fill="#145694" stroke="#0a3462" stroke-width="0.5"/>
<circle cx="323.77" cy="79.49" r="1.15" fill="#145694" stroke="#0a3462" stroke-width="0.5"/>
<circle cx="318.36" cy="80.70" r="1.15" fill="#145694" stroke="#0a3462" stroke-width="0.5"/>
<circle cx="320.36" cy="80.89" r="1.15" fill="#145694" stroke="#0a3462" stroke-width="0.5"/>
<circle cx="322.32" cy="81.00" r="1.15" fill="#145694" stroke="#0a3462" stroke-width="0.5"/>
<circle cx="324.74" cy="81.09" r="1.15" fill="#145694" stroke="#0a3462" stroke-width="0.5"/>
<circle cx="317.12" cy="82.25" r="1.15" fill="#145694" stroke="#0a3462" stroke-width="0.5"/>
<circle cx="319.14" cy="82.53" r="1.15" fill="#145694" stroke="#0a3462" stroke-width="0.5"/>
<circle cx="321.74" cy="82.51" r="1.15" fill="#145694" stroke="#0a3462" stroke-width="0.5"/>
<circle cx="324.13" cy="82.32" r="1.15" fill="#145694" stroke="#0a3462" stroke-width="0.5"/>
<circle cx="326.33" cy="82.12" r="1.15" fill="#145694" stroke="#0a3462" stroke-width="0.5"/>
<circle cx="315.74" cy="83.63" r="1.15" fill="#145694" stroke="#0a3462" stroke-width="0.5"/>
<circle cx="318.04" cy="83.96" r="1.15" fill="#145694" stroke="#0a3462" stroke-width="0.5"/>
<circle cx="320.67" cy="83.51" r="1.15" fill="#145694" stroke="#0a3462" stroke-width="0.5"/>
<circle cx="322.97" cy="83.54" r="1.15" fill="#145694" stroke="#0a3462" stroke-width="0.5"/>
<circle cx="324.96" cy="83.61" r="1.15" fill="#145694" stroke="#0a3462" stroke-width="0.5"/>
<circle cx="327.01" cy="83.52" r="1.15" fill="#145694" stroke="#0a3462" stroke-width="0.5"/>
<circle cx="314.84" cy="84.92" r="1.15" fill="#145694" stroke="#0a3462" stroke-width="0.5"/>
<circle cx="316.37" cy="85.14" r="1.15" fill="#145694" stroke="#0a3462" stroke-width="0.5"/>
<circle cx="318.52" cy="85.34" r="1.15" fill="#145694" stroke="#0a3462" stroke-width="0.5"/>
<circle cx="320.65" cy="85.35" r="1.15" fill="#145694" stroke="#0a3462" stroke-width="0.5"/>
<circle cx="322.90" cy="85.20" r="1.15" fill="#145694" stroke="#0a3462" stroke-width="0.5"/>
<circle cx="324.78" cy="84.98" r="1.15" fill="#145694" stroke="#0a3462" stroke-width="0.5"/>
<circle cx="326.65" cy="85.04" r="1.15" fill="#145694" stroke="#0a3462" stroke-width="0.5"/>
<circle cx="328.57" cy="84.93" r="1.15" fill="#145694" stroke="#0a3462" stroke-width="0.5"/>
<circle cx="315.07" cy="86.37" r="1.15" fill="#145694" stroke="#0a3462" stroke-width="0.5"/>
<circle cx="317.41" cy="86.57" r="1.15" fill="#145694" stroke="#0a3462" stroke-width="0.5"/>
<circle cx="319.25" cy="86.22" r="1.15" fill="#145694" stroke="#0a3462" stroke-width="0.5"/>
<circle cx="321.39" cy="86.59" r="1.15" fill="#145694" stroke="#0a3462" stroke-width="0.5"/>
<circle cx="323.85" cy="86.76" r="1.15" fill="#145694" stroke="#0a3462" stroke-width="0.5"/>
<circle cx="325.92" cy="86.61" r="1.15" fill="#145694" stroke="#0a3462" stroke-width="0.5"/>
<circle cx="328.02" cy="86.43" r="1.15" fill="#145694" stroke="#0a3462" stroke-width="0.5"/>
<circle cx="316.43" cy="87.97" r="1.15" fill="#145694" stroke="#0a3462" stroke-width="0.5"/>
<circle cx="318.42" cy="87.99" r="1.15" fill="#145694" stroke="#0a3462" stroke-width="0.5"/>
<circle cx="320.38" cy="88.18" r="1.15" fill="#145694" stroke="#0a3462" stroke-width="0.5"/>
<circle cx="322.39" cy="87.68" r="1.15" fill="#145694" stroke="#0a3462" stroke-width="0.5"/>
<circle cx="324.82" cy="88.09" r="1.15" fill="#145694" stroke="#0a3462" stroke-width="0.5"/>
<circle cx="326.46" cy="87.63" r="1.15" fill="#145694" stroke="#0a3462" stroke-width="0.5"/>
<circle cx="315.91" cy="89.41" r="1.15" fill="#145694" stroke="#0a3462" stroke-width="0.5"/>
<circle cx="318.50" cy="89.46" r="1.15" fill="#145694" stroke="#0a3462" stroke-width="0.5"/>
<circle cx="320.72" cy="89.05" r="1.15" fill="#145694" stroke="#0a3462" stroke-width="0.5"/>
<circle cx="322.66" cy="89.16" r="1.15" fill="#145694" stroke="#0a3462" stroke-width="0.5"/>
<circle cx="325.13" cy="89.03" r="1.15" fill="#145694" stroke="#0a3462" stroke-width="0.5"/>
<circle cx="327.46" cy="89.11" r="1.15" fill="#145694" stroke="#0a3462" stroke-width="0.5"/>
<circle cx="315.60" cy="90.80" r="1.15" fill="#145694" stroke="#0a3462" stroke-width="0.5"/>
<circle cx="317.40" cy="90.61" r="1.15" fill="#145694" stroke="#0a3462" stroke-width="0.5"/>
<circle cx="319.33" cy="90.95" r="1.15" fill="#145694" stroke="#0a3462" stroke-width="0.5"/>
<circle cx="321.73" cy="90.42" r="1.15" fill="#145694" stroke="#0a3462" stroke-width="0.5"/>
<circle cx="323.75" cy="90.70" r="1.15" fill="#145694" stroke="#0a3462" stroke-width="0.5"/>
<circle cx="325.57" cy="90.56" r="1.15" fill="#145694" stroke="#0a3462" stroke-width="0.5"/>
<circle cx="327.44" cy="90.44" r="1.15" fill="#145694" stroke="#0a3462" stroke-width="0.5"/>
<circle cx="314.72" cy="92.33" r="1.15" fill="#145694" stroke="#0a3462" stroke-width="0.5"/>
<circle cx="316.46" cy="92.15" r="1.15" fill="#145694" stroke="#0a3462" stroke-width="0.5"/>
<circle cx="318.77" cy="92.13" r="1.15" fill="#145694" stroke="#0a3462" stroke-width="0.5"/>
<circle cx="320.69" cy="92.40" r="1.15" fill="#145694" stroke="#0a3462" stroke-width="0.5"/>
<circle cx="322.83" cy="91.83" r="1.15" fill="#145694" stroke="#0a3462" stroke-width="0.5"/>
<circle cx="324.44" cy="92.27" r="1.15" fill="#145694" stroke="#0a3462" stroke-width="0.5"/>
<circle cx="326.75" cy="92.02" r="1.15" fill="#145694" stroke="#0a3462" stroke-width="0.5"/>
<circle cx="328.50" cy="91.96" r="1.15" fill="#145694" stroke="#0a3462" stroke-width="0.5"/>
<circle cx="314.72" cy="93.62" r="1.15" fill="#145694" stroke="#0a3462" stroke-width="0.5"/>
<circle cx="316.58" cy="93.72" r="1.15" fill="#145694" stroke="#0a3462" stroke-width="0.5"/>
<circle cx="318.81" cy="93.48" r="1.15" fill="#145694" stroke="#0a3462" stroke-width="0.5"/>
<circle cx="320.64" cy="93.40" r="1.15" fill="#145694" stroke="#0a3462" stroke-width="0.5"/>
<circle cx="322.67" cy="93.27" r="1.15" fill="#145694" stroke="#0a3462" stroke-width="0.5"/>
<circle cx="324.39" cy="93.24" r="1.15" fill="#145694" stroke="#0a3462" stroke-width="0.5"/>
<circle cx="326.86" cy="93.43" r="1.15" fill="#145694" stroke="#0a3462" stroke-width="0.5"/>
<circle cx="328.32" cy="93.24" r="1.15" fill="#145694" stroke="#0a3462" stroke-width="0.5"/>
<circle cx="315.72" cy="95.06" r="1.15" fill="#145694" stroke="#0a3462" stroke-width="0.5"/>
<circle cx="317.65" cy="94.84" r="1.15" fill="#145694" stroke="#0a3462" stroke-width="0.5"/>
<circle cx="319.79" cy="95.15" r="1.15" fill="#145694" stroke="#0a3462" stroke-width="0.5"/>
<circle cx="321.82" cy="95.17" r="1.15" fill="#145694" stroke="#0a3462" stroke-width="0.5"/>
<circle cx="323.36" cy="94.74" r="1.15" fill="#145694" stroke="#0a3462" stroke-width="0.5"/>
<circle cx="325.32" cy="95.13" r="1.15" fill="#145694" stroke="#0a3462" stroke-width="0.5"/>
<circle cx="327.68" cy="95.12" r="1.15" fill="#145694" stroke="#0a3462" stroke-width="0.5"/>
<circle cx="315.76" cy="96.08" r="1.15" fill="#145694" stroke="#0a3462" stroke-width="0.5"/>
<circle cx="318.06" cy="96.21" r="1.15" fill="#145694" stroke="#0a3462" stroke-width="0.5"/>
<circle cx="320.19" cy="96.17" r="1.15" fill="#145694" stroke="#0a3462" stroke-width="0.5"/>
<circle cx="322.85" cy="96.24" r="1.15" fill="#145694" stroke="#0a3462" stroke-width="0.5"/>
<circle cx="325.24" cy="96.32" r="1.15" fill="#145694" stroke="#0a3462" stroke-width="0.5"/>
<circle cx="327.27" cy="96.04" r="1.15" fill="#145694" stroke="#0a3462" stroke-width="0.5"/>
<circle cx="316.76" cy="97.63" r="1.15" fill="#145694" stroke="#0a3462" stroke-width="0.5"/>
<circle cx="318.62" cy="97.55" r="1.15" fill="#145694" stroke="#0a3462" stroke-width="0.5"/>
<circle cx="320.35" cy="97.91" r="1.15" fill="#145694" stroke="#0a3462" stroke-width="0.5"/>
<circle cx="322.30" cy="97.54" r="1.15" fill="#145694" stroke="#0a3462" stroke-width="0.5"/>
<circle cx="324.89" cy="97.42" r="1.15" fill="#145694" stroke="#0a3462" stroke-width="0.5"/>
<circle cx="326.59" cy="97.90" r="1.15" fill="#145694" stroke="#0a3462" stroke-width="0.5"/>
<circle cx="317.03" cy="99.32" r="1.15" fill="#145694" stroke="#0a3462" stroke-width="0.5"/>
<circle cx="319.63" cy="98.99" r="1.15" fill="#145694" stroke="#0a3462" stroke-width="0.5"/>
<circle cx="321.72" cy="99.12" r="1.15" fill="#145694" stroke="#0a3462" stroke-width="0.5"/>
<circle cx="323.92" cy="98.87" r="1.15" fill="#145694" stroke="#0a3462" stroke-width="0.5"/>
<circle cx="326.20" cy="99.29" r="1.15" fill="#145694" stroke="#0a3462" stroke-width="0.5"/>
<circle cx="318.18" cy="100.46" r="1.15" fill="#145694" stroke="#0a3462" stroke-width="0.5"/>
<circle cx="320.23" cy="100.75" r="1.15" fill="#145694" stroke="#0a3462" stroke-width="0.5"/>
<circle cx="322.54" cy="100.38" r="1.15" fill="#145694" stroke="#0a3462" stroke-width="0.5"/>
<circle cx="324.96" cy="100.45" r="1.15" fill="#145694" stroke="#0a3462" stroke-width="0.5"/>
<circle cx="319.58" cy="101.94" r="1.15" fill="#145694" stroke="#0a3462" stroke-width="0.5"/>
<circle cx="321.75" cy="102.01" r="1.15" fill="#145694" stroke="#0a3462" stroke-width="0.5"/>
<circle cx="323.50" cy="101.71" r="1.15" fill="#145694" stroke="#0a3462" stroke-width="0.5"/>
<circle cx="320.63" cy="103.12" r="1.15" fill="#145694" stroke="#0a3462" stroke-width="0.5"/>
<circle cx="322.88" cy="103.37" r="1.15" fill="#145694" stroke="#0a3462" stroke-width="0.5"/>
<circle cx="320.83" cy="104.56" r="1.15" fill="#145694" stroke="#0a3462" stroke-width="0.5"/>
<circle cx="322.48" cy="104.84" r="1.15" fill="#145694" stroke="#0a3462" stroke-width="0.5"/>
<circle cx="320.39" cy="105.97" r="1.15" fill="#145694" stroke="#0a3462" stroke-width="0.5"/>
<circle cx="322.61" cy="105.92" r="1.15" fill="#145694" stroke="#0a3462" stroke-width="0.5"/>
<circle cx="321.89" cy="107.66" r="1.15" fill="#145694" stroke="#0a3462" stroke-width="0.5"/>
<circle cx="321.36" cy="108.85" r="1.15" fill="#145694" stroke="#0a3462" stroke-width="0.5"/>
<circle cx="321.74" cy="110.28" r="1.15" fill="#145694" stroke="#0a3462" stroke-width="0.5"/>
<circle cx="321.00" cy="127.00" r="0.95" fill="#0e3f72" stroke="#072848" stroke-width="0.45"/>
<circle cx="322.40" cy="127.60" r="0.95" fill="#0e3f72" stroke="#072848" stroke-width="0.45"/>
<circle cx="321.00" cy="136.00" r="0.95" fill="#0e3f72" stroke="#072848" stroke-width="0.45"/>
<circle cx="322.20" cy="136.60" r="0.95" fill="#0e3f72" stroke="#072848" stroke-width="0.45"/>
<circle cx="321.50" cy="152.00" r="0.95" fill="#0e3f72" stroke="#072848" stroke-width="0.45"/>
<line x1="312.10" y1="91.60" x2="331.60" y2="91.60" stroke="#0a2a4c" stroke-width="1.2" />
<circle cx="349.90" cy="81.07" r="1.1" fill="#cacacd" stroke="#bdbdc0" stroke-width="0.35"/>
<circle cx="352.10" cy="81.21" r="1.1" fill="#cacacd" stroke="#bdbdc0" stroke-width="0.35"/>
<circle cx="346.80" cy="82.97" r="1.1" fill="#cacacd" stroke="#bdbdc0" stroke-width="0.35"/>
<circle cx="348.80" cy="82.95" r="1.1" fill="#cacacd" stroke="#bdbdc0" stroke-width="0.35"/>
<circle cx="351.47" cy="83.17" r="1.1" fill="#cacacd" stroke="#bdbdc0" stroke-width="0.35"/>
<circle cx="353.60" cy="83.05" r="1.1" fill="#cacacd" stroke="#bdbdc0" stroke-width="0.35"/>
<circle cx="355.61" cy="83.04" r="1.1" fill="#cacacd" stroke="#bdbdc0" stroke-width="0.35"/>
<circle cx="345.14" cy="84.73" r="1.1" fill="#cacacd" stroke="#bdbdc0" stroke-width="0.35"/>
<circle cx="347.62" cy="84.45" r="1.1" fill="#cacacd" stroke="#bdbdc0" stroke-width="0.35"/>
<circle cx="350.13" cy="84.20" r="1.1" fill="#cacacd" stroke="#bdbdc0" stroke-width="0.35"/>
<circle cx="352.76" cy="84.63" r="1.1" fill="#cacacd" stroke="#bdbdc0" stroke-width="0.35"/>
<circle cx="354.91" cy="84.43" r="1.1" fill="#cacacd" stroke="#bdbdc0" stroke-width="0.35"/>
<circle cx="357.69" cy="84.42" r="1.1" fill="#cacacd" stroke="#bdbdc0" stroke-width="0.35"/>
<circle cx="344.33" cy="86.19" r="1.1" fill="#cacacd" stroke="#bdbdc0" stroke-width="0.35"/>
<circle cx="346.72" cy="86.07" r="1.1" fill="#cacacd" stroke="#bdbdc0" stroke-width="0.35"/>
<circle cx="348.73" cy="86.11" r="1.1" fill="#cacacd" stroke="#bdbdc0" stroke-width="0.35"/>
<circle cx="351.50" cy="86.39" r="1.1" fill="#cacacd" stroke="#bdbdc0" stroke-width="0.35"/>
<circle cx="353.27" cy="86.13" r="1.1" fill="#cacacd" stroke="#bdbdc0" stroke-width="0.35"/>
<circle cx="355.95" cy="86.09" r="1.1" fill="#cacacd" stroke="#bdbdc0" stroke-width="0.35"/>
<circle cx="358.28" cy="86.10" r="1.1" fill="#cacacd" stroke="#bdbdc0" stroke-width="0.35"/>
<circle cx="345.47" cy="87.81" r="1.1" fill="#cacacd" stroke="#bdbdc0" stroke-width="0.35"/>
<circle cx="348.11" cy="87.42" r="1.1" fill="#cacacd" stroke="#bdbdc0" stroke-width="0.35"/>
<circle cx="350.07" cy="87.37" r="1.1" fill="#cacacd" stroke="#bdbdc0" stroke-width="0.35"/>
<circle cx="352.35" cy="87.34" r="1.1" fill="#cacacd" stroke="#bdbdc0" stroke-width="0.35"/>
<circle cx="354.62" cy="87.82" r="1.1" fill="#cacacd" stroke="#bdbdc0" stroke-width="0.35"/>
<circle cx="356.76" cy="87.49" r="1.1" fill="#cacacd" stroke="#bdbdc0" stroke-width="0.35"/>
<circle cx="343.44" cy="89.08" r="1.1" fill="#cacacd" stroke="#bdbdc0" stroke-width="0.35"/>
<circle cx="345.60" cy="89.08" r="1.1" fill="#cacacd" stroke="#bdbdc0" stroke-width="0.35"/>
<circle cx="348.12" cy="89.50" r="1.1" fill="#cacacd" stroke="#bdbdc0" stroke-width="0.35"/>
<circle cx="350.15" cy="89.32" r="1.1" fill="#cacacd" stroke="#bdbdc0" stroke-width="0.35"/>
<circle cx="352.75" cy="89.18" r="1.1" fill="#cacacd" stroke="#bdbdc0" stroke-width="0.35"/>
<circle cx="354.90" cy="89.50" r="1.1" fill="#cacacd" stroke="#bdbdc0" stroke-width="0.35"/>
<circle cx="356.78" cy="89.31" r="1.1" fill="#cacacd" stroke="#bdbdc0" stroke-width="0.35"/>
<circle cx="359.41" cy="89.18" r="1.1" fill="#cacacd" stroke="#bdbdc0" stroke-width="0.35"/>
<circle cx="342.59" cy="90.71" r="1.1" fill="#cacacd" stroke="#bdbdc0" stroke-width="0.35"/>
<circle cx="344.92" cy="90.53" r="1.1" fill="#cacacd" stroke="#bdbdc0" stroke-width="0.35"/>
<circle cx="347.45" cy="90.70" r="1.1" fill="#cacacd" stroke="#bdbdc0" stroke-width="0.35"/>
<circle cx="350.05" cy="90.83" r="1.1" fill="#cacacd" stroke="#bdbdc0" stroke-width="0.35"/>
<circle cx="352.64" cy="90.78" r="1.1" fill="#cacacd" stroke="#bdbdc0" stroke-width="0.35"/>
<circle cx="355.24" cy="90.57" r="1.1" fill="#cacacd" stroke="#bdbdc0" stroke-width="0.35"/>
<circle cx="357.74" cy="91.08" r="1.1" fill="#cacacd" stroke="#bdbdc0" stroke-width="0.35"/>
<circle cx="360.15" cy="90.97" r="1.1" fill="#cacacd" stroke="#bdbdc0" stroke-width="0.35"/>
<circle cx="347.12" cy="92.59" r="1.1" fill="#cacacd" stroke="#bdbdc0" stroke-width="0.35"/>
<circle cx="348.77" cy="92.23" r="1.1" fill="#cacacd" stroke="#bdbdc0" stroke-width="0.35"/>
<circle cx="351.49" cy="92.37" r="1.1" fill="#cacacd" stroke="#bdbdc0" stroke-width="0.35"/>
<circle cx="353.83" cy="92.68" r="1.1" fill="#cacacd" stroke="#bdbdc0" stroke-width="0.35"/>
<circle cx="356.07" cy="92.56" r="1.1" fill="#cacacd" stroke="#bdbdc0" stroke-width="0.35"/>
<circle cx="342.76" cy="94.28" r="1.1" fill="#cacacd" stroke="#bdbdc0" stroke-width="0.35"/>
<circle cx="344.79" cy="94.21" r="1.1" fill="#cacacd" stroke="#bdbdc0" stroke-width="0.35"/>
<circle cx="347.69" cy="94.04" r="1.1" fill="#cacacd" stroke="#bdbdc0" stroke-width="0.35"/>
<circle cx="350.08" cy="93.92" r="1.1" fill="#cacacd" stroke="#bdbdc0" stroke-width="0.35"/>
<circle cx="352.31" cy="94.08" r="1.1" fill="#cacacd" stroke="#bdbdc0" stroke-width="0.35"/>
<circle cx="355.06" cy="93.83" r="1.1" fill="#cacacd" stroke="#bdbdc0" stroke-width="0.35"/>
<circle cx="357.60" cy="94.11" r="1.1" fill="#cacacd" stroke="#bdbdc0" stroke-width="0.35"/>
<circle cx="359.77" cy="94.32" r="1.1" fill="#cacacd" stroke="#bdbdc0" stroke-width="0.35"/>
<circle cx="343.86" cy="95.92" r="1.1" fill="#cacacd" stroke="#bdbdc0" stroke-width="0.35"/>
<circle cx="346.20" cy="96.00" r="1.1" fill="#cacacd" stroke="#bdbdc0" stroke-width="0.35"/>
<circle cx="348.88" cy="95.78" r="1.1" fill="#cacacd" stroke="#bdbdc0" stroke-width="0.35"/>
<circle cx="351.38" cy="95.81" r="1.1" fill="#cacacd" stroke="#bdbdc0" stroke-width="0.35"/>
<circle cx="353.70" cy="96.02" r="1.1" fill="#cacacd" stroke="#bdbdc0" stroke-width="0.35"/>
<circle cx="356.33" cy="95.96" r="1.1" fill="#cacacd" stroke="#bdbdc0" stroke-width="0.35"/>
<circle cx="359.01" cy="95.77" r="1.1" fill="#cacacd" stroke="#bdbdc0" stroke-width="0.35"/>
<circle cx="344.46" cy="97.26" r="1.1" fill="#cacacd" stroke="#bdbdc0" stroke-width="0.35"/>
<circle cx="346.99" cy="97.08" r="1.1" fill="#cacacd" stroke="#bdbdc0" stroke-width="0.35"/>
<circle cx="349.00" cy="97.32" r="1.1" fill="#cacacd" stroke="#bdbdc0" stroke-width="0.35"/>
<circle cx="351.16" cy="97.51" r="1.1" fill="#cacacd" stroke="#bdbdc0" stroke-width="0.35"/>
<circle cx="353.55" cy="97.12" r="1.1" fill="#cacacd" stroke="#bdbdc0" stroke-width="0.35"/>
<circle cx="356.13" cy="97.39" r="1.1" fill="#cacacd" stroke="#bdbdc0" stroke-width="0.35"/>
<circle cx="357.93" cy="97.15" r="1.1" fill="#cacacd" stroke="#bdbdc0" stroke-width="0.35"/>
<circle cx="345.09" cy="99.08" r="1.1" fill="#cacacd" stroke="#bdbdc0" stroke-width="0.35"/>
<circle cx="347.68" cy="99.15" r="1.1" fill="#cacacd" stroke="#bdbdc0" stroke-width="0.35"/>
<circle cx="349.72" cy="98.74" r="1.1" fill="#cacacd" stroke="#bdbdc0" stroke-width="0.35"/>
<circle cx="352.34" cy="99.18" r="1.1" fill="#cacacd" stroke="#bdbdc0" stroke-width="0.35"/>
<circle cx="355.19" cy="99.08" r="1.1" fill="#cacacd" stroke="#bdbdc0" stroke-width="0.35"/>
<circle cx="357.68" cy="98.96" r="1.1" fill="#cacacd" stroke="#bdbdc0" stroke-width="0.35"/>
<circle cx="343.81" cy="100.61" r="1.1" fill="#cacacd" stroke="#bdbdc0" stroke-width="0.35"/>
<circle cx="346.38" cy="100.45" r="1.1" fill="#cacacd" stroke="#bdbdc0" stroke-width="0.35"/>
<circle cx="348.50" cy="100.26" r="1.1" fill="#cacacd" stroke="#bdbdc0" stroke-width="0.35"/>
<circle cx="351.49" cy="100.77" r="1.1" fill="#cacacd" stroke="#bdbdc0" stroke-width="0.35"/>
<circle cx="353.73" cy="100.71" r="1.1" fill="#cacacd" stroke="#bdbdc0" stroke-width="0.35"/>
<circle cx="356.38" cy="100.31" r="1.1" fill="#cacacd" stroke="#bdbdc0" stroke-width="0.35"/>
<circle cx="358.81" cy="100.35" r="1.1" fill="#cacacd" stroke="#bdbdc0" stroke-width="0.35"/>
<circle cx="345.98" cy="101.77" r="1.1" fill="#cacacd" stroke="#bdbdc0" stroke-width="0.35"/>
<circle cx="347.60" cy="101.81" r="1.1" fill="#cacacd" stroke="#bdbdc0" stroke-width="0.35"/>
<circle cx="350.23" cy="102.37" r="1.1" fill="#cacacd" stroke="#bdbdc0" stroke-width="0.35"/>
<circle cx="352.08" cy="102.00" r="1.1" fill="#cacacd" stroke="#bdbdc0" stroke-width="0.35"/>
<circle cx="354.98" cy="102.42" r="1.1" fill="#cacacd" stroke="#bdbdc0" stroke-width="0.35"/>
<circle cx="356.86" cy="101.80" r="1.1" fill="#cacacd" stroke="#bdbdc0" stroke-width="0.35"/>
<circle cx="345.43" cy="103.34" r="1.1" fill="#cacacd" stroke="#bdbdc0" stroke-width="0.35"/>
<circle cx="348.05" cy="103.42" r="1.1" fill="#cacacd" stroke="#bdbdc0" stroke-width="0.35"/>
<circle cx="349.89" cy="103.94" r="1.1" fill="#cacacd" stroke="#bdbdc0" stroke-width="0.35"/>
<circle cx="352.09" cy="103.83" r="1.1" fill="#cacacd" stroke="#bdbdc0" stroke-width="0.35"/>
<circle cx="354.84" cy="103.46" r="1.1" fill="#cacacd" stroke="#bdbdc0" stroke-width="0.35"/>
<circle cx="357.12" cy="103.83" r="1.1" fill="#cacacd" stroke="#bdbdc0" stroke-width="0.35"/>
<circle cx="345.97" cy="105.37" r="1.1" fill="#cacacd" stroke="#bdbdc0" stroke-width="0.35"/>
<circle cx="348.75" cy="105.58" r="1.1" fill="#cacacd" stroke="#bdbdc0" stroke-width="0.35"/>
<circle cx="351.63" cy="105.43" r="1.1" fill="#cacacd" stroke="#bdbdc0" stroke-width="0.35"/>
<circle cx="353.48" cy="105.39" r="1.1" fill="#cacacd" stroke="#bdbdc0" stroke-width="0.35"/>
<circle cx="356.05" cy="105.15" r="1.1" fill="#cacacd" stroke="#bdbdc0" stroke-width="0.35"/>
<circle cx="347.77" cy="106.87" r="1.1" fill="#cacacd" stroke="#bdbdc0" stroke-width="0.35"/>
<circle cx="349.95" cy="106.93" r="1.1" fill="#cacacd" stroke="#bdbdc0" stroke-width="0.35"/>
<circle cx="352.68" cy="106.63" r="1.1" fill="#cacacd" stroke="#bdbdc0" stroke-width="0.35"/>
<circle cx="354.98" cy="106.98" r="1.1" fill="#cacacd" stroke="#bdbdc0" stroke-width="0.35"/>
<circle cx="348.97" cy="108.68" r="1.1" fill="#cacacd" stroke="#bdbdc0" stroke-width="0.35"/>
<circle cx="351.50" cy="108.53" r="1.1" fill="#cacacd" stroke="#bdbdc0" stroke-width="0.35"/>
<circle cx="353.24" cy="108.81" r="1.1" fill="#cacacd" stroke="#bdbdc0" stroke-width="0.35"/>
<circle cx="348.93" cy="110.15" r="1.1" fill="#cacacd" stroke="#bdbdc0" stroke-width="0.35"/>
<circle cx="351.53" cy="110.15" r="1.1" fill="#cacacd" stroke="#bdbdc0" stroke-width="0.35"/>
<circle cx="353.50" cy="110.35" r="1.1" fill="#cacacd" stroke="#bdbdc0" stroke-width="0.35"/>
<circle cx="350.25" cy="111.96" r="1.1" fill="#cacacd" stroke="#bdbdc0" stroke-width="0.35"/>
<circle cx="352.27" cy="111.33" r="1.1" fill="#cacacd" stroke="#bdbdc0" stroke-width="0.35"/>
<circle cx="351.36" cy="113.50" r="1.1" fill="#cacacd" stroke="#bdbdc0" stroke-width="0.35"/>
<circle cx="351.53" cy="115.10" r="1.1" fill="#cacacd" stroke="#bdbdc0" stroke-width="0.35"/>
<circle cx="351.20" cy="73.50" r="0.95" fill="#c2c2c5" stroke="#b8b8bb" stroke-width="0.5"/>
<circle cx="351.20" cy="77.50" r="0.95" fill="#c2c2c5" stroke="#b8b8bb" stroke-width="0.5"/>
<circle cx="351.30" cy="119.50" r="0.95" fill="#c2c2c5" stroke="#b8b8bb" stroke-width="0.5"/>
<circle cx="351.30" cy="123.30" r="0.95" fill="#c2c2c5" stroke="#b8b8bb" stroke-width="0.5"/>
<circle cx="351.00" cy="128.00" r="0.95" fill="#c2c2c5" stroke="#b8b8bb" stroke-width="0.5"/>
<circle cx="351.50" cy="139.00" r="0.95" fill="#c2c2c5" stroke="#b8b8bb" stroke-width="0.5"/>
<circle cx="351.20" cy="143.00" r="0.95" fill="#c2c2c5" stroke="#b8b8bb" stroke-width="0.5"/>
<line x1="341.10" y1="95.50" x2="361.60" y2="95.50" stroke="#333" stroke-width="1.4" />
<line x1="444.00" y1="63.00" x2="444.00" y2="170.10" stroke="#151515" stroke-width="1.35" />
<line x1="443.35" y1="169.50" x2="513.30" y2="169.50" stroke="#151515" stroke-width="1.35" />
<line x1="463.60" y1="169.50" x2="463.60" y2="172.70" stroke="#1a1a1a" stroke-width="1.0" />
<line x1="492.80" y1="169.50" x2="492.80" y2="172.70" stroke="#1a1a1a" stroke-width="1.0" />
<line x1="440.80" y1="65.94" x2="444.00" y2="65.94" stroke="#1a1a1a" stroke-width="1.0" />
<text x="437.50" y="68.79" font-size="8.0" text-anchor="end" font-weight="normal" font-style="normal" fill="#1a1a1a" class="tk">8</text>
<line x1="440.80" y1="86.68" x2="444.00" y2="86.68" stroke="#1a1a1a" stroke-width="1.0" />
<text x="437.50" y="89.53" font-size="8.0" text-anchor="end" font-weight="normal" font-style="normal" fill="#1a1a1a" class="tk">6</text>
<line x1="440.80" y1="107.42" x2="444.00" y2="107.42" stroke="#1a1a1a" stroke-width="1.0" />
<text x="437.50" y="110.27" font-size="8.0" text-anchor="end" font-weight="normal" font-style="normal" fill="#1a1a1a" class="tk">4</text>
<line x1="440.80" y1="128.16" x2="444.00" y2="128.16" stroke="#1a1a1a" stroke-width="1.0" />
<text x="437.50" y="131.01" font-size="8.0" text-anchor="end" font-weight="normal" font-style="normal" fill="#1a1a1a" class="tk">2</text>
<line x1="440.80" y1="148.90" x2="444.00" y2="148.90" stroke="#1a1a1a" stroke-width="1.0" />
<text x="437.50" y="151.75" font-size="8.0" text-anchor="end" font-weight="normal" font-style="normal" fill="#1a1a1a" class="tk">0</text>
<line x1="440.80" y1="169.64" x2="444.00" y2="169.64" stroke="#1a1a1a" stroke-width="1.0" />
<text x="437.50" y="172.49" font-size="8.0" text-anchor="end" font-weight="normal" font-style="normal" fill="#1a1a1a" class="tk">−2</text>
<text x="0" y="0" font-size="8.8" text-anchor="middle" fill="#1a1a1a" class="yl" transform="translate(422.20 116.60) rotate(-90) scale(0.762 1)">Relative <tspan font-style="italic" font-weight="bold">SLFN11</tspan> mRNA (RPKM)</text>
<line x1="444.60" y1="148.90" x2="513.30" y2="148.90" stroke="#2e2e2e" stroke-width="1.3"  stroke-dasharray="1.0 1.15"/>
<text x="466.60" y="179.40" font-size="8.25" text-anchor="end" fill="#1a1a1a" class="xl" transform="rotate(-45 466.60 179.40)">Mutated</text>
<text x="495.80" y="179.40" font-size="8.25" text-anchor="end" fill="#1a1a1a" class="xl" transform="rotate(-45 495.80 179.40)">WT</text>
<polyline points="463.3,67.7 463.3,61.2 493.0,61.2 493.0,67.7" fill="none" stroke="#2a2a2a" stroke-width="1.0"/>
<circle cx="478.50" cy="56.90" r="0.95" fill="#151515"/>
<line x1="453.50" y1="90.90" x2="473.30" y2="90.90" stroke="#9a9a9a" stroke-width="1.2" />
<circle cx="463.30" cy="77.84" r="0.9" fill="#13508c" stroke="#082f5a" stroke-width="0.45"/>
<circle cx="463.87" cy="78.83" r="0.9" fill="#13508c" stroke="#082f5a" stroke-width="0.45"/>
<circle cx="460.66" cy="80.15" r="0.9" fill="#13508c" stroke="#082f5a" stroke-width="0.45"/>
<circle cx="462.85" cy="80.18" r="0.9" fill="#13508c" stroke="#082f5a" stroke-width="0.45"/>
<circle cx="464.70" cy="80.39" r="0.9" fill="#13508c" stroke="#082f5a" stroke-width="0.45"/>
<circle cx="466.39" cy="80.65" r="0.9" fill="#13508c" stroke="#082f5a" stroke-width="0.45"/>
<circle cx="457.58" cy="82.15" r="0.9" fill="#13508c" stroke="#082f5a" stroke-width="0.45"/>
<circle cx="459.56" cy="81.94" r="0.9" fill="#13508c" stroke="#082f5a" stroke-width="0.45"/>
<circle cx="465.33" cy="81.95" r="0.9" fill="#13508c" stroke="#082f5a" stroke-width="0.45"/>
<circle cx="466.92" cy="81.58" r="0.9" fill="#13508c" stroke="#082f5a" stroke-width="0.45"/>
<circle cx="468.93" cy="81.93" r="0.9" fill="#13508c" stroke="#082f5a" stroke-width="0.45"/>
<circle cx="455.98" cy="82.91" r="0.9" fill="#13508c" stroke="#082f5a" stroke-width="0.45"/>
<circle cx="460.06" cy="83.44" r="0.9" fill="#13508c" stroke="#082f5a" stroke-width="0.45"/>
<circle cx="462.16" cy="83.41" r="0.9" fill="#13508c" stroke="#082f5a" stroke-width="0.45"/>
<circle cx="464.55" cy="82.89" r="0.9" fill="#13508c" stroke="#082f5a" stroke-width="0.45"/>
<circle cx="467.03" cy="83.65" r="0.9" fill="#13508c" stroke="#082f5a" stroke-width="0.45"/>
<circle cx="468.71" cy="83.11" r="0.9" fill="#13508c" stroke="#082f5a" stroke-width="0.45"/>
<circle cx="470.64" cy="83.72" r="0.9" fill="#13508c" stroke="#082f5a" stroke-width="0.45"/>
<circle cx="455.87" cy="84.55" r="0.9" fill="#13508c" stroke="#082f5a" stroke-width="0.45"/>
<circle cx="457.19" cy="84.48" r="0.9" fill="#13508c" stroke="#082f5a" stroke-width="0.45"/>
<circle cx="459.07" cy="84.82" r="0.9" fill="#13508c" stroke="#082f5a" stroke-width="0.45"/>
<circle cx="461.45" cy="85.17" r="0.9" fill="#13508c" stroke="#082f5a" stroke-width="0.45"/>
<circle cx="465.60" cy="84.68" r="0.9" fill="#13508c" stroke="#082f5a" stroke-width="0.45"/>
<circle cx="467.94" cy="84.55" r="0.9" fill="#13508c" stroke="#082f5a" stroke-width="0.45"/>
<circle cx="469.67" cy="85.18" r="0.9" fill="#13508c" stroke="#082f5a" stroke-width="0.45"/>
<circle cx="471.46" cy="84.72" r="0.9" fill="#13508c" stroke="#082f5a" stroke-width="0.45"/>
<circle cx="459.38" cy="86.00" r="0.9" fill="#13508c" stroke="#082f5a" stroke-width="0.45"/>
<circle cx="462.01" cy="86.58" r="0.9" fill="#13508c" stroke="#082f5a" stroke-width="0.45"/>
<circle cx="463.09" cy="86.48" r="0.9" fill="#13508c" stroke="#082f5a" stroke-width="0.45"/>
<circle cx="465.48" cy="86.66" r="0.9" fill="#13508c" stroke="#082f5a" stroke-width="0.45"/>
<circle cx="466.88" cy="86.45" r="0.9" fill="#13508c" stroke="#082f5a" stroke-width="0.45"/>
<circle cx="470.72" cy="86.30" r="0.9" fill="#13508c" stroke="#082f5a" stroke-width="0.45"/>
<circle cx="455.02" cy="87.45" r="0.9" fill="#13508c" stroke="#082f5a" stroke-width="0.45"/>
<circle cx="457.01" cy="87.37" r="0.9" fill="#13508c" stroke="#082f5a" stroke-width="0.45"/>
<circle cx="458.55" cy="87.83" r="0.9" fill="#13508c" stroke="#082f5a" stroke-width="0.45"/>
<circle cx="460.92" cy="87.40" r="0.9" fill="#13508c" stroke="#082f5a" stroke-width="0.45"/>
<circle cx="462.96" cy="87.42" r="0.9" fill="#13508c" stroke="#082f5a" stroke-width="0.45"/>
<circle cx="466.62" cy="87.35" r="0.9" fill="#13508c" stroke="#082f5a" stroke-width="0.45"/>
<circle cx="467.76" cy="88.06" r="0.9" fill="#13508c" stroke="#082f5a" stroke-width="0.45"/>
<circle cx="470.09" cy="87.63" r="0.9" fill="#13508c" stroke="#082f5a" stroke-width="0.45"/>
<circle cx="472.12" cy="87.65" r="0.9" fill="#13508c" stroke="#082f5a" stroke-width="0.45"/>
<circle cx="454.92" cy="88.72" r="0.9" fill="#13508c" stroke="#082f5a" stroke-width="0.45"/>
<circle cx="457.07" cy="88.80" r="0.9" fill="#13508c" stroke="#082f5a" stroke-width="0.45"/>
<circle cx="458.66" cy="89.04" r="0.9" fill="#13508c" stroke="#082f5a" stroke-width="0.45"/>
<circle cx="460.52" cy="89.43" r="0.9" fill="#13508c" stroke="#082f5a" stroke-width="0.45"/>
<circle cx="462.28" cy="89.11" r="0.9" fill="#13508c" stroke="#082f5a" stroke-width="0.45"/>
<circle cx="464.79" cy="88.77" r="0.9" fill="#13508c" stroke="#082f5a" stroke-width="0.45"/>
<circle cx="468.48" cy="89.27" r="0.9" fill="#13508c" stroke="#082f5a" stroke-width="0.45"/>
<circle cx="469.95" cy="88.93" r="0.9" fill="#13508c" stroke="#082f5a" stroke-width="0.45"/>
<circle cx="471.56" cy="89.00" r="0.9" fill="#13508c" stroke="#082f5a" stroke-width="0.45"/>
<circle cx="458.22" cy="90.93" r="0.9" fill="#13508c" stroke="#082f5a" stroke-width="0.45"/>
<circle cx="460.65" cy="90.38" r="0.9" fill="#13508c" stroke="#082f5a" stroke-width="0.45"/>
<circle cx="464.79" cy="90.43" r="0.9" fill="#13508c" stroke="#082f5a" stroke-width="0.45"/>
<circle cx="466.10" cy="90.87" r="0.9" fill="#13508c" stroke="#082f5a" stroke-width="0.45"/>
<circle cx="468.31" cy="90.51" r="0.9" fill="#13508c" stroke="#082f5a" stroke-width="0.45"/>
<circle cx="472.72" cy="90.24" r="0.9" fill="#13508c" stroke="#082f5a" stroke-width="0.45"/>
<circle cx="456.49" cy="91.75" r="0.9" fill="#13508c" stroke="#082f5a" stroke-width="0.45"/>
<circle cx="457.99" cy="92.12" r="0.9" fill="#13508c" stroke="#082f5a" stroke-width="0.45"/>
<circle cx="460.21" cy="91.76" r="0.9" fill="#13508c" stroke="#082f5a" stroke-width="0.45"/>
<circle cx="462.66" cy="92.30" r="0.9" fill="#13508c" stroke="#082f5a" stroke-width="0.45"/>
<circle cx="464.26" cy="91.63" r="0.9" fill="#13508c" stroke="#082f5a" stroke-width="0.45"/>
<circle cx="466.50" cy="92.22" r="0.9" fill="#13508c" stroke="#082f5a" stroke-width="0.45"/>
<circle cx="468.92" cy="91.87" r="0.9" fill="#13508c" stroke="#082f5a" stroke-width="0.45"/>
<circle cx="471.02" cy="92.01" r="0.9" fill="#13508c" stroke="#082f5a" stroke-width="0.45"/>
<circle cx="460.13" cy="93.26" r="0.9" fill="#13508c" stroke="#082f5a" stroke-width="0.45"/>
<circle cx="461.95" cy="93.35" r="0.9" fill="#13508c" stroke="#082f5a" stroke-width="0.45"/>
<circle cx="463.38" cy="93.56" r="0.9" fill="#13508c" stroke="#082f5a" stroke-width="0.45"/>
<circle cx="465.37" cy="93.42" r="0.9" fill="#13508c" stroke="#082f5a" stroke-width="0.45"/>
<circle cx="466.86" cy="93.66" r="0.9" fill="#13508c" stroke="#082f5a" stroke-width="0.45"/>
<circle cx="469.38" cy="93.31" r="0.9" fill="#13508c" stroke="#082f5a" stroke-width="0.45"/>
<circle cx="457.51" cy="94.53" r="0.9" fill="#13508c" stroke="#082f5a" stroke-width="0.45"/>
<circle cx="459.76" cy="94.92" r="0.9" fill="#13508c" stroke="#082f5a" stroke-width="0.45"/>
<circle cx="461.46" cy="94.95" r="0.9" fill="#13508c" stroke="#082f5a" stroke-width="0.45"/>
<circle cx="463.92" cy="94.67" r="0.9" fill="#13508c" stroke="#082f5a" stroke-width="0.45"/>
<circle cx="465.21" cy="94.70" r="0.9" fill="#13508c" stroke="#082f5a" stroke-width="0.45"/>
<circle cx="467.22" cy="94.56" r="0.9" fill="#13508c" stroke="#082f5a" stroke-width="0.45"/>
<circle cx="469.44" cy="94.49" r="0.9" fill="#13508c" stroke="#082f5a" stroke-width="0.45"/>
<circle cx="457.97" cy="96.55" r="0.9" fill="#13508c" stroke="#082f5a" stroke-width="0.45"/>
<circle cx="460.13" cy="96.57" r="0.9" fill="#13508c" stroke="#082f5a" stroke-width="0.45"/>
<circle cx="461.31" cy="96.36" r="0.9" fill="#13508c" stroke="#082f5a" stroke-width="0.45"/>
<circle cx="463.30" cy="96.03" r="0.9" fill="#13508c" stroke="#082f5a" stroke-width="0.45"/>
<circle cx="465.02" cy="96.45" r="0.9" fill="#13508c" stroke="#082f5a" stroke-width="0.45"/>
<circle cx="466.88" cy="96.44" r="0.9" fill="#13508c" stroke="#082f5a" stroke-width="0.45"/>
<circle cx="468.75" cy="96.66" r="0.9" fill="#13508c" stroke="#082f5a" stroke-width="0.45"/>
<circle cx="458.25" cy="98.13" r="0.9" fill="#13508c" stroke="#082f5a" stroke-width="0.45"/>
<circle cx="460.30" cy="98.22" r="0.9" fill="#13508c" stroke="#082f5a" stroke-width="0.45"/>
<circle cx="462.32" cy="97.59" r="0.9" fill="#13508c" stroke="#082f5a" stroke-width="0.45"/>
<circle cx="464.48" cy="98.25" r="0.9" fill="#13508c" stroke="#082f5a" stroke-width="0.45"/>
<circle cx="466.98" cy="98.10" r="0.9" fill="#13508c" stroke="#082f5a" stroke-width="0.45"/>
<circle cx="468.28" cy="97.84" r="0.9" fill="#13508c" stroke="#082f5a" stroke-width="0.45"/>
<circle cx="460.65" cy="99.39" r="0.9" fill="#13508c" stroke="#082f5a" stroke-width="0.45"/>
<circle cx="462.60" cy="98.88" r="0.9" fill="#13508c" stroke="#082f5a" stroke-width="0.45"/>
<circle cx="464.43" cy="98.84" r="0.9" fill="#13508c" stroke="#082f5a" stroke-width="0.45"/>
<circle cx="466.70" cy="99.52" r="0.9" fill="#13508c" stroke="#082f5a" stroke-width="0.45"/>
<circle cx="460.15" cy="101.07" r="0.9" fill="#13508c" stroke="#082f5a" stroke-width="0.45"/>
<circle cx="461.78" cy="100.51" r="0.9" fill="#13508c" stroke="#082f5a" stroke-width="0.45"/>
<circle cx="463.30" cy="100.76" r="0.9" fill="#13508c" stroke="#082f5a" stroke-width="0.45"/>
<circle cx="466.98" cy="100.74" r="0.9" fill="#13508c" stroke="#082f5a" stroke-width="0.45"/>
<circle cx="462.29" cy="102.30" r="0.9" fill="#13508c" stroke="#082f5a" stroke-width="0.45"/>
<circle cx="464.62" cy="102.58" r="0.9" fill="#13508c" stroke="#082f5a" stroke-width="0.45"/>
<circle cx="466.40" cy="102.14" r="0.9" fill="#13508c" stroke="#082f5a" stroke-width="0.45"/>
<circle cx="460.39" cy="103.29" r="0.9" fill="#13508c" stroke="#082f5a" stroke-width="0.45"/>
<circle cx="462.49" cy="103.43" r="0.9" fill="#13508c" stroke="#082f5a" stroke-width="0.45"/>
<circle cx="464.05" cy="103.66" r="0.9" fill="#13508c" stroke="#082f5a" stroke-width="0.45"/>
<circle cx="466.37" cy="103.68" r="0.9" fill="#13508c" stroke="#082f5a" stroke-width="0.45"/>
<circle cx="460.91" cy="105.03" r="0.9" fill="#13508c" stroke="#082f5a" stroke-width="0.45"/>
<circle cx="462.68" cy="105.04" r="0.9" fill="#13508c" stroke="#082f5a" stroke-width="0.45"/>
<circle cx="464.19" cy="104.82" r="0.9" fill="#13508c" stroke="#082f5a" stroke-width="0.45"/>
<circle cx="466.17" cy="105.15" r="0.9" fill="#13508c" stroke="#082f5a" stroke-width="0.45"/>
<circle cx="461.98" cy="106.28" r="0.9" fill="#13508c" stroke="#082f5a" stroke-width="0.45"/>
<circle cx="463.49" cy="106.33" r="0.9" fill="#13508c" stroke="#082f5a" stroke-width="0.45"/>
<circle cx="462.16" cy="107.58" r="0.9" fill="#13508c" stroke="#082f5a" stroke-width="0.45"/>
<circle cx="464.48" cy="107.58" r="0.9" fill="#13508c" stroke="#082f5a" stroke-width="0.45"/>
<circle cx="462.79" cy="109.07" r="0.9" fill="#13508c" stroke="#082f5a" stroke-width="0.45"/>
<circle cx="464.84" cy="109.63" r="0.9" fill="#13508c" stroke="#082f5a" stroke-width="0.45"/>
<circle cx="463.37" cy="111.03" r="0.9" fill="#13508c" stroke="#082f5a" stroke-width="0.45"/>
<circle cx="463.50" cy="115.40" r="0.9" fill="#13508c" stroke="#082f5a" stroke-width="0.45"/>
<circle cx="463.50" cy="119.80" r="0.9" fill="#13508c" stroke="#082f5a" stroke-width="0.45"/>
<circle cx="493.22" cy="73.99" r="1.1" fill="#cacacd" stroke="#bdbdc0" stroke-width="0.35"/>
<circle cx="493.18" cy="75.56" r="1.1" fill="#cacacd" stroke="#bdbdc0" stroke-width="0.35"/>
<circle cx="493.29" cy="76.92" r="1.1" fill="#cacacd" stroke="#bdbdc0" stroke-width="0.35"/>
<circle cx="492.06" cy="78.84" r="1.1" fill="#cacacd" stroke="#bdbdc0" stroke-width="0.35"/>
<circle cx="494.45" cy="78.83" r="1.1" fill="#cacacd" stroke="#bdbdc0" stroke-width="0.35"/>
<circle cx="492.00" cy="80.46" r="1.1" fill="#cacacd" stroke="#bdbdc0" stroke-width="0.35"/>
<circle cx="494.23" cy="80.35" r="1.1" fill="#cacacd" stroke="#bdbdc0" stroke-width="0.35"/>
<circle cx="489.55" cy="82.02" r="1.1" fill="#cacacd" stroke="#bdbdc0" stroke-width="0.35"/>
<circle cx="491.75" cy="82.18" r="1.1" fill="#cacacd" stroke="#bdbdc0" stroke-width="0.35"/>
<circle cx="494.12" cy="81.94" r="1.1" fill="#cacacd" stroke="#bdbdc0" stroke-width="0.35"/>
<circle cx="496.24" cy="81.73" r="1.1" fill="#cacacd" stroke="#bdbdc0" stroke-width="0.35"/>
<circle cx="488.93" cy="83.87" r="1.1" fill="#cacacd" stroke="#bdbdc0" stroke-width="0.35"/>
<circle cx="491.98" cy="83.82" r="1.1" fill="#cacacd" stroke="#bdbdc0" stroke-width="0.35"/>
<circle cx="494.05" cy="83.53" r="1.1" fill="#cacacd" stroke="#bdbdc0" stroke-width="0.35"/>
<circle cx="496.44" cy="83.26" r="1.1" fill="#cacacd" stroke="#bdbdc0" stroke-width="0.35"/>
<circle cx="488.79" cy="85.37" r="1.1" fill="#cacacd" stroke="#bdbdc0" stroke-width="0.35"/>
<circle cx="491.10" cy="85.19" r="1.1" fill="#cacacd" stroke="#bdbdc0" stroke-width="0.35"/>
<circle cx="493.13" cy="85.10" r="1.1" fill="#cacacd" stroke="#bdbdc0" stroke-width="0.35"/>
<circle cx="495.32" cy="85.08" r="1.1" fill="#cacacd" stroke="#bdbdc0" stroke-width="0.35"/>
<circle cx="497.62" cy="85.20" r="1.1" fill="#cacacd" stroke="#bdbdc0" stroke-width="0.35"/>
<circle cx="489.15" cy="86.82" r="1.1" fill="#cacacd" stroke="#bdbdc0" stroke-width="0.35"/>
<circle cx="492.01" cy="87.11" r="1.1" fill="#cacacd" stroke="#bdbdc0" stroke-width="0.35"/>
<circle cx="494.22" cy="86.87" r="1.1" fill="#cacacd" stroke="#bdbdc0" stroke-width="0.35"/>
<circle cx="496.67" cy="86.80" r="1.1" fill="#cacacd" stroke="#bdbdc0" stroke-width="0.35"/>
<circle cx="486.12" cy="88.71" r="1.1" fill="#cacacd" stroke="#bdbdc0" stroke-width="0.35"/>
<circle cx="488.51" cy="88.11" r="1.1" fill="#cacacd" stroke="#bdbdc0" stroke-width="0.35"/>
<circle cx="490.88" cy="88.60" r="1.1" fill="#cacacd" stroke="#bdbdc0" stroke-width="0.35"/>
<circle cx="493.27" cy="88.32" r="1.1" fill="#cacacd" stroke="#bdbdc0" stroke-width="0.35"/>
<circle cx="495.10" cy="88.39" r="1.1" fill="#cacacd" stroke="#bdbdc0" stroke-width="0.35"/>
<circle cx="497.28" cy="88.16" r="1.1" fill="#cacacd" stroke="#bdbdc0" stroke-width="0.35"/>
<circle cx="499.82" cy="88.28" r="1.1" fill="#cacacd" stroke="#bdbdc0" stroke-width="0.35"/>
<circle cx="484.80" cy="89.92" r="1.1" fill="#cacacd" stroke="#bdbdc0" stroke-width="0.35"/>
<circle cx="487.24" cy="90.11" r="1.1" fill="#cacacd" stroke="#bdbdc0" stroke-width="0.35"/>
<circle cx="489.49" cy="90.22" r="1.1" fill="#cacacd" stroke="#bdbdc0" stroke-width="0.35"/>
<circle cx="491.99" cy="89.77" r="1.1" fill="#cacacd" stroke="#bdbdc0" stroke-width="0.35"/>
<circle cx="494.16" cy="89.82" r="1.1" fill="#cacacd" stroke="#bdbdc0" stroke-width="0.35"/>
<circle cx="496.40" cy="90.33" r="1.1" fill="#cacacd" stroke="#bdbdc0" stroke-width="0.35"/>
<circle cx="498.56" cy="89.72" r="1.1" fill="#cacacd" stroke="#bdbdc0" stroke-width="0.35"/>
<circle cx="501.06" cy="89.70" r="1.1" fill="#cacacd" stroke="#bdbdc0" stroke-width="0.35"/>
<circle cx="487.98" cy="91.81" r="1.1" fill="#cacacd" stroke="#bdbdc0" stroke-width="0.35"/>
<circle cx="490.69" cy="91.27" r="1.1" fill="#cacacd" stroke="#bdbdc0" stroke-width="0.35"/>
<circle cx="493.19" cy="91.46" r="1.1" fill="#cacacd" stroke="#bdbdc0" stroke-width="0.35"/>
<circle cx="495.42" cy="91.35" r="1.1" fill="#cacacd" stroke="#bdbdc0" stroke-width="0.35"/>
<circle cx="497.76" cy="91.86" r="1.1" fill="#cacacd" stroke="#bdbdc0" stroke-width="0.35"/>
<circle cx="485.09" cy="93.10" r="1.1" fill="#cacacd" stroke="#bdbdc0" stroke-width="0.35"/>
<circle cx="487.65" cy="93.24" r="1.1" fill="#cacacd" stroke="#bdbdc0" stroke-width="0.35"/>
<circle cx="489.58" cy="93.26" r="1.1" fill="#cacacd" stroke="#bdbdc0" stroke-width="0.35"/>
<circle cx="491.56" cy="93.48" r="1.1" fill="#cacacd" stroke="#bdbdc0" stroke-width="0.35"/>
<circle cx="494.00" cy="93.46" r="1.1" fill="#cacacd" stroke="#bdbdc0" stroke-width="0.35"/>
<circle cx="496.24" cy="93.25" r="1.1" fill="#cacacd" stroke="#bdbdc0" stroke-width="0.35"/>
<circle cx="498.62" cy="93.49" r="1.1" fill="#cacacd" stroke="#bdbdc0" stroke-width="0.35"/>
<circle cx="500.80" cy="93.33" r="1.1" fill="#cacacd" stroke="#bdbdc0" stroke-width="0.35"/>
<circle cx="486.96" cy="94.77" r="1.1" fill="#cacacd" stroke="#bdbdc0" stroke-width="0.35"/>
<circle cx="489.04" cy="94.55" r="1.1" fill="#cacacd" stroke="#bdbdc0" stroke-width="0.35"/>
<circle cx="491.52" cy="95.11" r="1.1" fill="#cacacd" stroke="#bdbdc0" stroke-width="0.35"/>
<circle cx="494.30" cy="94.51" r="1.1" fill="#cacacd" stroke="#bdbdc0" stroke-width="0.35"/>
<circle cx="496.70" cy="94.71" r="1.1" fill="#cacacd" stroke="#bdbdc0" stroke-width="0.35"/>
<circle cx="499.04" cy="95.01" r="1.1" fill="#cacacd" stroke="#bdbdc0" stroke-width="0.35"/>
<circle cx="487.16" cy="96.23" r="1.1" fill="#cacacd" stroke="#bdbdc0" stroke-width="0.35"/>
<circle cx="489.30" cy="96.49" r="1.1" fill="#cacacd" stroke="#bdbdc0" stroke-width="0.35"/>
<circle cx="491.63" cy="96.52" r="1.1" fill="#cacacd" stroke="#bdbdc0" stroke-width="0.35"/>
<circle cx="493.96" cy="96.61" r="1.1" fill="#cacacd" stroke="#bdbdc0" stroke-width="0.35"/>
<circle cx="496.34" cy="96.62" r="1.1" fill="#cacacd" stroke="#bdbdc0" stroke-width="0.35"/>
<circle cx="498.39" cy="96.28" r="1.1" fill="#cacacd" stroke="#bdbdc0" stroke-width="0.35"/>
<circle cx="486.57" cy="97.78" r="1.1" fill="#cacacd" stroke="#bdbdc0" stroke-width="0.35"/>
<circle cx="488.50" cy="97.79" r="1.1" fill="#cacacd" stroke="#bdbdc0" stroke-width="0.35"/>
<circle cx="490.49" cy="98.12" r="1.1" fill="#cacacd" stroke="#bdbdc0" stroke-width="0.35"/>
<circle cx="493.28" cy="98.04" r="1.1" fill="#cacacd" stroke="#bdbdc0" stroke-width="0.35"/>
<circle cx="495.07" cy="98.06" r="1.1" fill="#cacacd" stroke="#bdbdc0" stroke-width="0.35"/>
<circle cx="497.76" cy="97.72" r="1.1" fill="#cacacd" stroke="#bdbdc0" stroke-width="0.35"/>
<circle cx="499.78" cy="97.82" r="1.1" fill="#cacacd" stroke="#bdbdc0" stroke-width="0.35"/>
<circle cx="486.81" cy="99.63" r="1.1" fill="#cacacd" stroke="#bdbdc0" stroke-width="0.35"/>
<circle cx="489.14" cy="99.29" r="1.1" fill="#cacacd" stroke="#bdbdc0" stroke-width="0.35"/>
<circle cx="491.99" cy="99.45" r="1.1" fill="#cacacd" stroke="#bdbdc0" stroke-width="0.35"/>
<circle cx="493.99" cy="99.62" r="1.1" fill="#cacacd" stroke="#bdbdc0" stroke-width="0.35"/>
<circle cx="496.78" cy="99.44" r="1.1" fill="#cacacd" stroke="#bdbdc0" stroke-width="0.35"/>
<circle cx="499.17" cy="99.39" r="1.1" fill="#cacacd" stroke="#bdbdc0" stroke-width="0.35"/>
<circle cx="489.07" cy="101.11" r="1.1" fill="#cacacd" stroke="#bdbdc0" stroke-width="0.35"/>
<circle cx="491.93" cy="101.45" r="1.1" fill="#cacacd" stroke="#bdbdc0" stroke-width="0.35"/>
<circle cx="494.00" cy="101.02" r="1.1" fill="#cacacd" stroke="#bdbdc0" stroke-width="0.35"/>
<circle cx="496.91" cy="101.29" r="1.1" fill="#cacacd" stroke="#bdbdc0" stroke-width="0.35"/>
<circle cx="489.74" cy="102.92" r="1.1" fill="#cacacd" stroke="#bdbdc0" stroke-width="0.35"/>
<circle cx="492.12" cy="102.68" r="1.1" fill="#cacacd" stroke="#bdbdc0" stroke-width="0.35"/>
<circle cx="493.90" cy="102.51" r="1.1" fill="#cacacd" stroke="#bdbdc0" stroke-width="0.35"/>
<circle cx="496.54" cy="102.93" r="1.1" fill="#cacacd" stroke="#bdbdc0" stroke-width="0.35"/>
<circle cx="490.51" cy="104.17" r="1.1" fill="#cacacd" stroke="#bdbdc0" stroke-width="0.35"/>
<circle cx="492.92" cy="104.06" r="1.1" fill="#cacacd" stroke="#bdbdc0" stroke-width="0.35"/>
<circle cx="495.35" cy="104.16" r="1.1" fill="#cacacd" stroke="#bdbdc0" stroke-width="0.35"/>
<circle cx="490.90" cy="105.81" r="1.1" fill="#cacacd" stroke="#bdbdc0" stroke-width="0.35"/>
<circle cx="493.13" cy="105.87" r="1.1" fill="#cacacd" stroke="#bdbdc0" stroke-width="0.35"/>
<circle cx="495.48" cy="106.17" r="1.1" fill="#cacacd" stroke="#bdbdc0" stroke-width="0.35"/>
<circle cx="492.12" cy="107.66" r="1.1" fill="#cacacd" stroke="#bdbdc0" stroke-width="0.35"/>
<circle cx="493.95" cy="107.31" r="1.1" fill="#cacacd" stroke="#bdbdc0" stroke-width="0.35"/>
<circle cx="492.17" cy="109.35" r="1.1" fill="#cacacd" stroke="#bdbdc0" stroke-width="0.35"/>
<circle cx="494.26" cy="109.11" r="1.1" fill="#cacacd" stroke="#bdbdc0" stroke-width="0.35"/>
<circle cx="491.72" cy="110.49" r="1.1" fill="#cacacd" stroke="#bdbdc0" stroke-width="0.35"/>
<circle cx="494.07" cy="111.08" r="1.1" fill="#cacacd" stroke="#bdbdc0" stroke-width="0.35"/>
<circle cx="493.23" cy="112.47" r="1.1" fill="#cacacd" stroke="#bdbdc0" stroke-width="0.35"/>
<circle cx="493.00" cy="118.50" r="0.9" fill="#c6c6c9" stroke="#bbbbbe" stroke-width="0.5"/>
<circle cx="493.00" cy="123.00" r="0.9" fill="#c6c6c9" stroke="#bbbbbe" stroke-width="0.5"/>
<circle cx="493.20" cy="128.00" r="0.9" fill="#c6c6c9" stroke="#bbbbbe" stroke-width="0.5"/>
<circle cx="492.60" cy="136.00" r="0.9" fill="#c6c6c9" stroke="#bbbbbe" stroke-width="0.5"/>
<circle cx="493.40" cy="139.00" r="0.9" fill="#c6c6c9" stroke="#bbbbbe" stroke-width="0.5"/>
<circle cx="493.00" cy="143.00" r="0.9" fill="#c6c6c9" stroke="#bbbbbe" stroke-width="0.5"/>
<circle cx="493.00" cy="152.00" r="0.9" fill="#c6c6c9" stroke="#bbbbbe" stroke-width="0.5"/>
<line x1="482.80" y1="94.00" x2="502.90" y2="94.00" stroke="#333" stroke-width="1.4" />
<line x1="119.90" y1="289.00" x2="119.90" y2="396.05" stroke="#151515" stroke-width="1.35" />
<line x1="119.25" y1="395.45" x2="189.20" y2="395.45" stroke="#151515" stroke-width="1.35" />
<line x1="139.70" y1="395.45" x2="139.70" y2="398.65" stroke="#1a1a1a" stroke-width="1.0" />
<line x1="169.20" y1="395.45" x2="169.20" y2="398.65" stroke="#1a1a1a" stroke-width="1.0" />
<line x1="116.70" y1="292.05" x2="119.90" y2="292.05" stroke="#1a1a1a" stroke-width="1.0" />
<text x="113.40" y="294.90" font-size="8.0" text-anchor="end" font-weight="normal" font-style="normal" fill="#1a1a1a" class="tk">4</text>
<line x1="116.70" y1="317.90" x2="119.90" y2="317.90" stroke="#1a1a1a" stroke-width="1.0" />
<text x="113.40" y="320.75" font-size="8.0" text-anchor="end" font-weight="normal" font-style="normal" fill="#1a1a1a" class="tk">3</text>
<line x1="116.70" y1="343.75" x2="119.90" y2="343.75" stroke="#1a1a1a" stroke-width="1.0" />
<text x="113.40" y="346.60" font-size="8.0" text-anchor="end" font-weight="normal" font-style="normal" fill="#1a1a1a" class="tk">2</text>
<line x1="116.70" y1="369.60" x2="119.90" y2="369.60" stroke="#1a1a1a" stroke-width="1.0" />
<text x="113.40" y="372.45" font-size="8.0" text-anchor="end" font-weight="normal" font-style="normal" fill="#1a1a1a" class="tk">1</text>
<line x1="116.70" y1="395.45" x2="119.90" y2="395.45" stroke="#1a1a1a" stroke-width="1.0" />
<text x="113.40" y="398.30" font-size="8.0" text-anchor="end" font-weight="normal" font-style="normal" fill="#1a1a1a" class="tk">0</text>
<text x="0" y="0" font-size="8.8" text-anchor="middle" fill="#1a1a1a" class="yl" transform="translate(102.40 342.30) rotate(-90) scale(0.762 1)">Relative <tspan font-style="italic" font-weight="bold">SLFN11</tspan> mRNA (RPKM)</text>
<text x="142.70" y="405.35" font-size="8.25" text-anchor="end" fill="#1a1a1a" class="xl" transform="rotate(-45 142.70 405.35)">WT</text>
<text x="172.20" y="405.35" font-size="8.25" text-anchor="end" fill="#1a1a1a" class="xl" transform="rotate(-45 172.20 405.35)">Mutated</text>
<polyline points="139.3,311.5 139.3,299.7 169.2,299.7 169.2,313.8" fill="none" stroke="#2a2a2a" stroke-width="1.0"/>
<circle cx="154.20" cy="295.10" r="0.95" fill="#151515"/>
<circle cx="138.60" cy="317.48" r="1.15" fill="#145694" stroke="#0a3462" stroke-width="0.5"/>
<circle cx="141.18" cy="317.30" r="1.15" fill="#145694" stroke="#0a3462" stroke-width="0.5"/>
<circle cx="135.45" cy="319.20" r="1.15" fill="#145694" stroke="#0a3462" stroke-width="0.5"/>
<circle cx="137.54" cy="319.30" r="1.15" fill="#145694" stroke="#0a3462" stroke-width="0.5"/>
<circle cx="139.73" cy="318.87" r="1.15" fill="#145694" stroke="#0a3462" stroke-width="0.5"/>
<circle cx="141.80" cy="318.97" r="1.15" fill="#145694" stroke="#0a3462" stroke-width="0.5"/>
<circle cx="143.96" cy="318.80" r="1.15" fill="#145694" stroke="#0a3462" stroke-width="0.5"/>
<circle cx="134.08" cy="320.37" r="1.15" fill="#145694" stroke="#0a3462" stroke-width="0.5"/>
<circle cx="136.39" cy="320.78" r="1.15" fill="#145694" stroke="#0a3462" stroke-width="0.5"/>
<circle cx="138.49" cy="320.75" r="1.15" fill="#145694" stroke="#0a3462" stroke-width="0.5"/>
<circle cx="140.83" cy="320.42" r="1.15" fill="#145694" stroke="#0a3462" stroke-width="0.5"/>
<circle cx="143.01" cy="320.68" r="1.15" fill="#145694" stroke="#0a3462" stroke-width="0.5"/>
<circle cx="145.26" cy="320.58" r="1.15" fill="#145694" stroke="#0a3462" stroke-width="0.5"/>
<circle cx="134.44" cy="321.79" r="1.15" fill="#145694" stroke="#0a3462" stroke-width="0.5"/>
<circle cx="136.34" cy="321.84" r="1.15" fill="#145694" stroke="#0a3462" stroke-width="0.5"/>
<circle cx="138.48" cy="321.84" r="1.15" fill="#145694" stroke="#0a3462" stroke-width="0.5"/>
<circle cx="140.76" cy="321.79" r="1.15" fill="#145694" stroke="#0a3462" stroke-width="0.5"/>
<circle cx="142.96" cy="321.94" r="1.15" fill="#145694" stroke="#0a3462" stroke-width="0.5"/>
<circle cx="144.91" cy="321.73" r="1.15" fill="#145694" stroke="#0a3462" stroke-width="0.5"/>
<circle cx="132.90" cy="323.65" r="1.15" fill="#145694" stroke="#0a3462" stroke-width="0.5"/>
<circle cx="135.37" cy="323.29" r="1.15" fill="#145694" stroke="#0a3462" stroke-width="0.5"/>
<circle cx="137.48" cy="323.33" r="1.15" fill="#145694" stroke="#0a3462" stroke-width="0.5"/>
<circle cx="139.40" cy="323.77" r="1.15" fill="#145694" stroke="#0a3462" stroke-width="0.5"/>
<circle cx="141.96" cy="323.78" r="1.15" fill="#145694" stroke="#0a3462" stroke-width="0.5"/>
<circle cx="143.92" cy="323.37" r="1.15" fill="#145694" stroke="#0a3462" stroke-width="0.5"/>
<circle cx="145.97" cy="323.68" r="1.15" fill="#145694" stroke="#0a3462" stroke-width="0.5"/>
<circle cx="131.86" cy="325.10" r="1.15" fill="#145694" stroke="#0a3462" stroke-width="0.5"/>
<circle cx="134.49" cy="324.82" r="1.15" fill="#145694" stroke="#0a3462" stroke-width="0.5"/>
<circle cx="136.62" cy="325.17" r="1.15" fill="#145694" stroke="#0a3462" stroke-width="0.5"/>
<circle cx="138.42" cy="325.22" r="1.15" fill="#145694" stroke="#0a3462" stroke-width="0.5"/>
<circle cx="140.71" cy="325.05" r="1.15" fill="#145694" stroke="#0a3462" stroke-width="0.5"/>
<circle cx="143.18" cy="324.86" r="1.15" fill="#145694" stroke="#0a3462" stroke-width="0.5"/>
<circle cx="145.20" cy="325.10" r="1.15" fill="#145694" stroke="#0a3462" stroke-width="0.5"/>
<circle cx="147.47" cy="325.26" r="1.15" fill="#145694" stroke="#0a3462" stroke-width="0.5"/>
<circle cx="130.96" cy="326.31" r="1.15" fill="#145694" stroke="#0a3462" stroke-width="0.5"/>
<circle cx="133.19" cy="326.27" r="1.15" fill="#145694" stroke="#0a3462" stroke-width="0.5"/>
<circle cx="135.13" cy="326.49" r="1.15" fill="#145694" stroke="#0a3462" stroke-width="0.5"/>
<circle cx="137.27" cy="326.24" r="1.15" fill="#145694" stroke="#0a3462" stroke-width="0.5"/>
<circle cx="139.51" cy="326.65" r="1.15" fill="#145694" stroke="#0a3462" stroke-width="0.5"/>
<circle cx="142.09" cy="326.73" r="1.15" fill="#145694" stroke="#0a3462" stroke-width="0.5"/>
<circle cx="144.03" cy="326.39" r="1.15" fill="#145694" stroke="#0a3462" stroke-width="0.5"/>
<circle cx="146.26" cy="326.47" r="1.15" fill="#145694" stroke="#0a3462" stroke-width="0.5"/>
<circle cx="148.40" cy="326.62" r="1.15" fill="#145694" stroke="#0a3462" stroke-width="0.5"/>
<circle cx="131.85" cy="327.90" r="1.15" fill="#145694" stroke="#0a3462" stroke-width="0.5"/>
<circle cx="134.28" cy="327.93" r="1.15" fill="#145694" stroke="#0a3462" stroke-width="0.5"/>
<circle cx="136.17" cy="327.91" r="1.15" fill="#145694" stroke="#0a3462" stroke-width="0.5"/>
<circle cx="138.89" cy="328.27" r="1.15" fill="#145694" stroke="#0a3462" stroke-width="0.5"/>
<circle cx="141.08" cy="328.30" r="1.15" fill="#145694" stroke="#0a3462" stroke-width="0.5"/>
<circle cx="143.16" cy="327.76" r="1.15" fill="#145694" stroke="#0a3462" stroke-width="0.5"/>
<circle cx="145.23" cy="327.90" r="1.15" fill="#145694" stroke="#0a3462" stroke-width="0.5"/>
<circle cx="147.62" cy="328.01" r="1.15" fill="#145694" stroke="#0a3462" stroke-width="0.5"/>
<circle cx="133.49" cy="329.75" r="1.15" fill="#145694" stroke="#0a3462" stroke-width="0.5"/>
<circle cx="135.84" cy="329.63" r="1.15" fill="#145694" stroke="#0a3462" stroke-width="0.5"/>
<circle cx="138.23" cy="329.62" r="1.15" fill="#145694" stroke="#0a3462" stroke-width="0.5"/>
<circle cx="140.97" cy="329.47" r="1.15" fill="#145694" stroke="#0a3462" stroke-width="0.5"/>
<circle cx="143.41" cy="329.46" r="1.15" fill="#145694" stroke="#0a3462" stroke-width="0.5"/>
<circle cx="145.63" cy="329.75" r="1.15" fill="#145694" stroke="#0a3462" stroke-width="0.5"/>
<circle cx="136.25" cy="330.87" r="1.15" fill="#145694" stroke="#0a3462" stroke-width="0.5"/>
<circle cx="138.49" cy="330.87" r="1.15" fill="#145694" stroke="#0a3462" stroke-width="0.5"/>
<circle cx="140.96" cy="330.86" r="1.15" fill="#145694" stroke="#0a3462" stroke-width="0.5"/>
<circle cx="143.14" cy="331.03" r="1.15" fill="#145694" stroke="#0a3462" stroke-width="0.5"/>
<circle cx="138.42" cy="332.26" r="1.15" fill="#145694" stroke="#0a3462" stroke-width="0.5"/>
<circle cx="141.14" cy="332.55" r="1.15" fill="#145694" stroke="#0a3462" stroke-width="0.5"/>
<circle cx="138.38" cy="334.31" r="1.15" fill="#145694" stroke="#0a3462" stroke-width="0.5"/>
<circle cx="140.55" cy="334.22" r="1.15" fill="#145694" stroke="#0a3462" stroke-width="0.5"/>
<line x1="133.00" y1="327.20" x2="147.00" y2="327.20" stroke="#8fb3d9" stroke-width="0.7" />
<circle cx="139.70" cy="337.70" r="0.95" fill="#0e3f72" stroke="#072848" stroke-width="0.45"/>
<circle cx="139.70" cy="345.40" r="0.95" fill="#0e3f72" stroke="#072848" stroke-width="0.45"/>
<circle cx="139.70" cy="352.80" r="0.95" fill="#0e3f72" stroke="#072848" stroke-width="0.45"/>
<circle cx="139.70" cy="366.60" r="0.95" fill="#0e3f72" stroke="#072848" stroke-width="0.45"/>
<circle cx="139.70" cy="371.00" r="0.95" fill="#0e3f72" stroke="#072848" stroke-width="0.45"/>
<circle cx="169.00" cy="314.30" r="0.85" fill="#bdbdc0" stroke="#b0b0b4" stroke-width="0.4"/>
<circle cx="169.00" cy="320.00" r="0.85" fill="#bdbdc0" stroke="#b0b0b4" stroke-width="0.4"/>
<circle cx="163.00" cy="322.50" r="0.85" fill="#bdbdc0" stroke="#b0b0b4" stroke-width="0.4"/>
<circle cx="166.00" cy="322.50" r="0.85" fill="#bdbdc0" stroke="#b0b0b4" stroke-width="0.4"/>
<circle cx="169.00" cy="322.50" r="0.85" fill="#bdbdc0" stroke="#b0b0b4" stroke-width="0.4"/>
<circle cx="171.50" cy="322.50" r="0.85" fill="#bdbdc0" stroke="#b0b0b4" stroke-width="0.4"/>
<circle cx="175.00" cy="324.00" r="0.85" fill="#bdbdc0" stroke="#b0b0b4" stroke-width="0.4"/>
<circle cx="161.50" cy="325.30" r="0.85" fill="#bdbdc0" stroke="#b0b0b4" stroke-width="0.4"/>
<circle cx="166.00" cy="325.30" r="0.85" fill="#bdbdc0" stroke="#b0b0b4" stroke-width="0.4"/>
<circle cx="165.50" cy="330.70" r="0.85" fill="#bdbdc0" stroke="#b0b0b4" stroke-width="0.4"/>
<circle cx="169.00" cy="330.70" r="0.85" fill="#bdbdc0" stroke="#b0b0b4" stroke-width="0.4"/>
<circle cx="172.00" cy="330.70" r="0.85" fill="#bdbdc0" stroke="#b0b0b4" stroke-width="0.4"/>
<circle cx="167.00" cy="332.90" r="0.85" fill="#bdbdc0" stroke="#b0b0b4" stroke-width="0.4"/>
<circle cx="170.50" cy="333.50" r="0.85" fill="#bdbdc0" stroke="#b0b0b4" stroke-width="0.4"/>
<circle cx="166.00" cy="336.00" r="0.85" fill="#bdbdc0" stroke="#b0b0b4" stroke-width="0.4"/>
<circle cx="169.00" cy="336.00" r="0.85" fill="#bdbdc0" stroke="#b0b0b4" stroke-width="0.4"/>
<circle cx="172.00" cy="336.00" r="0.85" fill="#bdbdc0" stroke="#b0b0b4" stroke-width="0.4"/>
<circle cx="169.00" cy="339.20" r="0.85" fill="#bdbdc0" stroke="#b0b0b4" stroke-width="0.4"/>
<circle cx="168.90" cy="355.40" r="0.85" fill="#bdbdc0" stroke="#b0b0b4" stroke-width="0.4"/>
<circle cx="173.00" cy="327.50" r="0.85" fill="#bdbdc0" stroke="#b0b0b4" stroke-width="0.4"/>
<circle cx="163.50" cy="327.80" r="0.85" fill="#bdbdc0" stroke="#b0b0b4" stroke-width="0.4"/>
<line x1="159.50" y1="327.50" x2="178.70" y2="327.50" stroke="#2a2a2a" stroke-width="1.3" />
<line x1="237.50" y1="289.00" x2="237.50" y2="396.10" stroke="#151515" stroke-width="1.35" />
<line x1="236.85" y1="395.50" x2="306.20" y2="395.50" stroke="#151515" stroke-width="1.35" />
<line x1="251.20" y1="395.50" x2="251.20" y2="398.70" stroke="#1a1a1a" stroke-width="1.0" />
<line x1="271.70" y1="395.50" x2="271.70" y2="398.70" stroke="#1a1a1a" stroke-width="1.0" />
<line x1="292.50" y1="395.50" x2="292.50" y2="398.70" stroke="#1a1a1a" stroke-width="1.0" />
<line x1="234.30" y1="291.50" x2="237.50" y2="291.50" stroke="#1a1a1a" stroke-width="1.0" />
<text x="231.00" y="294.35" font-size="8.0" text-anchor="end" font-weight="normal" font-style="normal" fill="#1a1a1a" class="tk">10</text>
<line x1="234.30" y1="312.30" x2="237.50" y2="312.30" stroke="#1a1a1a" stroke-width="1.0" />
<text x="231.00" y="315.15" font-size="8.0" text-anchor="end" font-weight="normal" font-style="normal" fill="#1a1a1a" class="tk">8</text>
<line x1="234.30" y1="333.10" x2="237.50" y2="333.10" stroke="#1a1a1a" stroke-width="1.0" />
<text x="231.00" y="335.95" font-size="8.0" text-anchor="end" font-weight="normal" font-style="normal" fill="#1a1a1a" class="tk">6</text>
<line x1="234.30" y1="353.90" x2="237.50" y2="353.90" stroke="#1a1a1a" stroke-width="1.0" />
<text x="231.00" y="356.75" font-size="8.0" text-anchor="end" font-weight="normal" font-style="normal" fill="#1a1a1a" class="tk">4</text>
<line x1="234.30" y1="374.70" x2="237.50" y2="374.70" stroke="#1a1a1a" stroke-width="1.0" />
<text x="231.00" y="377.55" font-size="8.0" text-anchor="end" font-weight="normal" font-style="normal" fill="#1a1a1a" class="tk">2</text>
<line x1="234.30" y1="395.50" x2="237.50" y2="395.50" stroke="#1a1a1a" stroke-width="1.0" />
<text x="231.00" y="398.35" font-size="8.0" text-anchor="end" font-weight="normal" font-style="normal" fill="#1a1a1a" class="tk">0</text>
<text x="0" y="0" font-size="8.8" text-anchor="middle" fill="#1a1a1a" class="yl" transform="translate(213.20 341.30) rotate(-90) scale(0.762 1)">Log<tspan font-size="6.2" dy="2.3">2</tspan><tspan dy="-2.3"> </tspan><tspan font-style="italic" font-weight="bold">SLFN11</tspan> expression</text>
<text x="254.20" y="405.40" font-size="8.25" text-anchor="end" fill="#1a1a1a" class="xl" transform="rotate(-45 254.20 405.40)">inv(16)/t(16;16)</text>
<text x="274.70" y="405.40" font-size="8.25" text-anchor="end" fill="#1a1a1a" class="xl" transform="rotate(-45 274.70 405.40)">t(11q23)/MLL</text>
<text x="295.50" y="405.40" font-size="8.25" text-anchor="end" fill="#1a1a1a" class="xl" transform="rotate(-45 295.50 405.40)">Complex Karyotype</text>
<line x1="250.80" y1="273.10" x2="293.50" y2="273.10" stroke="#2a2a2a" stroke-width="1.0" />
<circle cx="267.35" cy="268.80" r="0.95" fill="#151515"/>
<circle cx="270.45" cy="268.80" r="0.95" fill="#151515"/>
<circle cx="273.55" cy="268.80" r="0.95" fill="#151515"/>
<circle cx="276.65" cy="268.80" r="0.95" fill="#151515"/>
<line x1="250.80" y1="292.50" x2="272.40" y2="292.50" stroke="#2a2a2a" stroke-width="1.0" />
<circle cx="258.60" cy="288.20" r="0.95" fill="#151515"/>
<circle cx="261.70" cy="288.20" r="0.95" fill="#151515"/>
<circle cx="264.80" cy="288.20" r="0.95" fill="#151515"/>
<circle cx="246.20" cy="307.40" r="1.25" fill="#11497f" stroke="#082c55" stroke-width="0.6"/>
<circle cx="249.60" cy="307.60" r="1.25" fill="#11497f" stroke="#082c55" stroke-width="0.6"/>
<circle cx="256.20" cy="308.30" r="1.25" fill="#11497f" stroke="#082c55" stroke-width="0.6"/>
<circle cx="253.50" cy="308.60" r="1.25" fill="#11497f" stroke="#082c55" stroke-width="0.6"/>
<circle cx="246.36" cy="309.40" r="1.25" fill="#11497f" stroke="#082c55" stroke-width="0.6"/>
<circle cx="249.08" cy="309.64" r="1.25" fill="#11497f" stroke="#082c55" stroke-width="0.6"/>
<circle cx="251.51" cy="309.38" r="1.25" fill="#11497f" stroke="#082c55" stroke-width="0.6"/>
<circle cx="254.01" cy="309.33" r="1.25" fill="#11497f" stroke="#082c55" stroke-width="0.6"/>
<circle cx="256.29" cy="309.52" r="1.25" fill="#11497f" stroke="#082c55" stroke-width="0.6"/>
<circle cx="248.21" cy="312.46" r="1.25" fill="#11497f" stroke="#082c55" stroke-width="0.6"/>
<circle cx="250.79" cy="312.28" r="1.25" fill="#11497f" stroke="#082c55" stroke-width="0.6"/>
<circle cx="253.48" cy="312.36" r="1.25" fill="#11497f" stroke="#082c55" stroke-width="0.6"/>
<circle cx="246.56" cy="315.67" r="1.25" fill="#11497f" stroke="#082c55" stroke-width="0.6"/>
<circle cx="249.05" cy="315.64" r="1.25" fill="#11497f" stroke="#082c55" stroke-width="0.6"/>
<circle cx="251.57" cy="315.82" r="1.25" fill="#11497f" stroke="#082c55" stroke-width="0.6"/>
<circle cx="253.77" cy="315.75" r="1.25" fill="#11497f" stroke="#082c55" stroke-width="0.6"/>
<circle cx="256.34" cy="315.76" r="1.25" fill="#11497f" stroke="#082c55" stroke-width="0.6"/>
<circle cx="248.47" cy="318.60" r="1.25" fill="#11497f" stroke="#082c55" stroke-width="0.6"/>
<circle cx="250.75" cy="318.32" r="1.25" fill="#11497f" stroke="#082c55" stroke-width="0.6"/>
<circle cx="253.49" cy="318.67" r="1.25" fill="#11497f" stroke="#082c55" stroke-width="0.6"/>
<circle cx="255.69" cy="318.13" r="1.25" fill="#11497f" stroke="#082c55" stroke-width="0.6"/>
<circle cx="245.44" cy="320.66" r="1.25" fill="#11497f" stroke="#082c55" stroke-width="0.6"/>
<circle cx="247.92" cy="321.08" r="1.25" fill="#11497f" stroke="#082c55" stroke-width="0.6"/>
<circle cx="250.25" cy="321.16" r="1.25" fill="#11497f" stroke="#082c55" stroke-width="0.6"/>
<circle cx="252.97" cy="320.75" r="1.25" fill="#11497f" stroke="#082c55" stroke-width="0.6"/>
<circle cx="255.28" cy="320.87" r="1.25" fill="#11497f" stroke="#082c55" stroke-width="0.6"/>
<circle cx="257.34" cy="320.95" r="1.25" fill="#11497f" stroke="#082c55" stroke-width="0.6"/>
<circle cx="249.25" cy="322.91" r="1.25" fill="#11497f" stroke="#082c55" stroke-width="0.6"/>
<circle cx="252.24" cy="323.38" r="1.25" fill="#11497f" stroke="#082c55" stroke-width="0.6"/>
<circle cx="254.67" cy="323.23" r="1.25" fill="#11497f" stroke="#082c55" stroke-width="0.6"/>
<circle cx="248.80" cy="327.20" r="1.25" fill="#11497f" stroke="#082c55" stroke-width="0.6"/>
<circle cx="251.60" cy="327.20" r="1.25" fill="#11497f" stroke="#082c55" stroke-width="0.6"/>
<circle cx="248.90" cy="331.00" r="1.25" fill="#11497f" stroke="#082c55" stroke-width="0.6"/>
<circle cx="252.00" cy="331.20" r="1.25" fill="#11497f" stroke="#082c55" stroke-width="0.6"/>
<circle cx="249.60" cy="333.20" r="1.25" fill="#11497f" stroke="#082c55" stroke-width="0.6"/>
<circle cx="251.80" cy="333.60" r="1.25" fill="#11497f" stroke="#082c55" stroke-width="0.6"/>
<circle cx="250.60" cy="335.60" r="1.25" fill="#11497f" stroke="#082c55" stroke-width="0.6"/>
<circle cx="250.60" cy="338.70" r="1.25" fill="#11497f" stroke="#082c55" stroke-width="0.6"/>
<circle cx="249.00" cy="341.80" r="1.25" fill="#11497f" stroke="#082c55" stroke-width="0.6"/>
<circle cx="252.40" cy="341.90" r="1.25" fill="#11497f" stroke="#082c55" stroke-width="0.6"/>
<circle cx="250.60" cy="343.60" r="1.25" fill="#11497f" stroke="#082c55" stroke-width="0.6"/>
<circle cx="250.60" cy="346.40" r="1.25" fill="#11497f" stroke="#082c55" stroke-width="0.6"/>
<circle cx="270.40" cy="304.50" r="1.05" fill="#5a1a6c" stroke="#2a0634" stroke-width="0.6"/>
<circle cx="271.90" cy="306.50" r="1.05" fill="#5a1a6c" stroke="#2a0634" stroke-width="0.6"/>
<circle cx="273.90" cy="308.80" r="1.05" fill="#5a1a6c" stroke="#2a0634" stroke-width="0.6"/>
<circle cx="271.20" cy="310.40" r="1.05" fill="#5a1a6c" stroke="#2a0634" stroke-width="0.6"/>
<circle cx="268.80" cy="312.70" r="1.05" fill="#5a1a6c" stroke="#2a0634" stroke-width="0.6"/>
<circle cx="272.70" cy="314.20" r="1.05" fill="#5a1a6c" stroke="#2a0634" stroke-width="0.6"/>
<circle cx="275.00" cy="315.00" r="1.05" fill="#5a1a6c" stroke="#2a0634" stroke-width="0.6"/>
<circle cx="271.20" cy="317.30" r="1.05" fill="#5a1a6c" stroke="#2a0634" stroke-width="0.6"/>
<circle cx="274.20" cy="318.80" r="1.05" fill="#5a1a6c" stroke="#2a0634" stroke-width="0.6"/>
<circle cx="270.40" cy="319.60" r="1.05" fill="#5a1a6c" stroke="#2a0634" stroke-width="0.6"/>
<circle cx="275.80" cy="324.20" r="1.05" fill="#5a1a6c" stroke="#2a0634" stroke-width="0.6"/>
<circle cx="273.90" cy="325.80" r="1.05" fill="#5a1a6c" stroke="#2a0634" stroke-width="0.6"/>
<circle cx="269.60" cy="327.30" r="1.05" fill="#5a1a6c" stroke="#2a0634" stroke-width="0.6"/>
<circle cx="267.30" cy="329.60" r="1.05" fill="#5a1a6c" stroke="#2a0634" stroke-width="0.6"/>
<circle cx="271.20" cy="329.60" r="1.05" fill="#5a1a6c" stroke="#2a0634" stroke-width="0.6"/>
<circle cx="275.80" cy="330.40" r="1.05" fill="#5a1a6c" stroke="#2a0634" stroke-width="0.6"/>
<circle cx="269.60" cy="331.90" r="1.05" fill="#5a1a6c" stroke="#2a0634" stroke-width="0.6"/>
<circle cx="273.00" cy="332.70" r="1.05" fill="#5a1a6c" stroke="#2a0634" stroke-width="0.6"/>
<circle cx="277.30" cy="332.70" r="1.05" fill="#5a1a6c" stroke="#2a0634" stroke-width="0.6"/>
<circle cx="268.10" cy="334.20" r="1.05" fill="#5a1a6c" stroke="#2a0634" stroke-width="0.6"/>
<circle cx="271.90" cy="335.00" r="1.05" fill="#5a1a6c" stroke="#2a0634" stroke-width="0.6"/>
<circle cx="275.00" cy="335.80" r="1.05" fill="#5a1a6c" stroke="#2a0634" stroke-width="0.6"/>
<circle cx="270.40" cy="337.30" r="1.05" fill="#5a1a6c" stroke="#2a0634" stroke-width="0.6"/>
<circle cx="273.90" cy="338.10" r="1.05" fill="#5a1a6c" stroke="#2a0634" stroke-width="0.6"/>
<circle cx="268.80" cy="339.60" r="1.05" fill="#5a1a6c" stroke="#2a0634" stroke-width="0.6"/>
<circle cx="271.90" cy="341.20" r="1.05" fill="#5a1a6c" stroke="#2a0634" stroke-width="0.6"/>
<circle cx="275.80" cy="341.20" r="1.05" fill="#5a1a6c" stroke="#2a0634" stroke-width="0.6"/>
<circle cx="269.60" cy="344.20" r="1.05" fill="#5a1a6c" stroke="#2a0634" stroke-width="0.6"/>
<circle cx="272.70" cy="345.80" r="1.05" fill="#5a1a6c" stroke="#2a0634" stroke-width="0.6"/>
<circle cx="277.30" cy="346.50" r="1.05" fill="#5a1a6c" stroke="#2a0634" stroke-width="0.6"/>
<circle cx="269.60" cy="348.10" r="1.05" fill="#5a1a6c" stroke="#2a0634" stroke-width="0.6"/>
<circle cx="271.90" cy="355.00" r="1.05" fill="#5a1a6c" stroke="#2a0634" stroke-width="0.6"/>
<circle cx="271.90" cy="358.80" r="1.05" fill="#5a1a6c" stroke="#2a0634" stroke-width="0.6"/>
<circle cx="291.64" cy="315.46" r="1.1" fill="#c8c8cb" stroke="#b8b8bb" stroke-width="0.35"/>
<circle cx="294.08" cy="315.95" r="1.1" fill="#c8c8cb" stroke="#b8b8bb" stroke-width="0.35"/>
<circle cx="291.61" cy="317.27" r="1.1" fill="#c8c8cb" stroke="#b8b8bb" stroke-width="0.35"/>
<circle cx="294.39" cy="317.85" r="1.1" fill="#c8c8cb" stroke="#b8b8bb" stroke-width="0.35"/>
<circle cx="296.06" cy="317.87" r="1.1" fill="#c8c8cb" stroke="#b8b8bb" stroke-width="0.35"/>
<circle cx="288.28" cy="319.07" r="1.1" fill="#c8c8cb" stroke="#b8b8bb" stroke-width="0.35"/>
<circle cx="290.50" cy="319.72" r="1.1" fill="#c8c8cb" stroke="#b8b8bb" stroke-width="0.35"/>
<circle cx="292.52" cy="319.23" r="1.1" fill="#c8c8cb" stroke="#b8b8bb" stroke-width="0.35"/>
<circle cx="295.55" cy="319.46" r="1.1" fill="#c8c8cb" stroke="#b8b8bb" stroke-width="0.35"/>
<circle cx="297.20" cy="319.25" r="1.1" fill="#c8c8cb" stroke="#b8b8bb" stroke-width="0.35"/>
<circle cx="288.20" cy="321.05" r="1.1" fill="#c8c8cb" stroke="#b8b8bb" stroke-width="0.35"/>
<circle cx="290.67" cy="321.03" r="1.1" fill="#c8c8cb" stroke="#b8b8bb" stroke-width="0.35"/>
<circle cx="292.86" cy="321.62" r="1.1" fill="#c8c8cb" stroke="#b8b8bb" stroke-width="0.35"/>
<circle cx="294.88" cy="321.33" r="1.1" fill="#c8c8cb" stroke="#b8b8bb" stroke-width="0.35"/>
<circle cx="297.30" cy="321.18" r="1.1" fill="#c8c8cb" stroke="#b8b8bb" stroke-width="0.35"/>
<circle cx="288.33" cy="323.39" r="1.1" fill="#c8c8cb" stroke="#b8b8bb" stroke-width="0.35"/>
<circle cx="292.95" cy="323.22" r="1.1" fill="#c8c8cb" stroke="#b8b8bb" stroke-width="0.35"/>
<circle cx="295.45" cy="323.10" r="1.1" fill="#c8c8cb" stroke="#b8b8bb" stroke-width="0.35"/>
<circle cx="297.38" cy="322.78" r="1.1" fill="#c8c8cb" stroke="#b8b8bb" stroke-width="0.35"/>
<circle cx="288.14" cy="324.94" r="1.1" fill="#c8c8cb" stroke="#b8b8bb" stroke-width="0.35"/>
<circle cx="290.56" cy="325.00" r="1.1" fill="#c8c8cb" stroke="#b8b8bb" stroke-width="0.35"/>
<circle cx="293.02" cy="324.65" r="1.1" fill="#c8c8cb" stroke="#b8b8bb" stroke-width="0.35"/>
<circle cx="295.39" cy="324.38" r="1.1" fill="#c8c8cb" stroke="#b8b8bb" stroke-width="0.35"/>
<circle cx="297.89" cy="325.22" r="1.1" fill="#c8c8cb" stroke="#b8b8bb" stroke-width="0.35"/>
<circle cx="288.07" cy="326.34" r="1.1" fill="#c8c8cb" stroke="#b8b8bb" stroke-width="0.35"/>
<circle cx="290.27" cy="326.14" r="1.1" fill="#c8c8cb" stroke="#b8b8bb" stroke-width="0.35"/>
<circle cx="292.86" cy="326.53" r="1.1" fill="#c8c8cb" stroke="#b8b8bb" stroke-width="0.35"/>
<circle cx="295.02" cy="326.28" r="1.1" fill="#c8c8cb" stroke="#b8b8bb" stroke-width="0.35"/>
<circle cx="297.32" cy="326.41" r="1.1" fill="#c8c8cb" stroke="#b8b8bb" stroke-width="0.35"/>
<circle cx="288.69" cy="328.24" r="1.1" fill="#c8c8cb" stroke="#b8b8bb" stroke-width="0.35"/>
<circle cx="292.52" cy="328.09" r="1.1" fill="#c8c8cb" stroke="#b8b8bb" stroke-width="0.35"/>
<circle cx="295.64" cy="328.25" r="1.1" fill="#c8c8cb" stroke="#b8b8bb" stroke-width="0.35"/>
<circle cx="297.44" cy="328.71" r="1.1" fill="#c8c8cb" stroke="#b8b8bb" stroke-width="0.35"/>
<circle cx="289.40" cy="329.98" r="1.1" fill="#c8c8cb" stroke="#b8b8bb" stroke-width="0.35"/>
<circle cx="291.18" cy="329.88" r="1.1" fill="#c8c8cb" stroke="#b8b8bb" stroke-width="0.35"/>
<circle cx="294.37" cy="329.93" r="1.1" fill="#c8c8cb" stroke="#b8b8bb" stroke-width="0.35"/>
<circle cx="296.49" cy="330.27" r="1.1" fill="#c8c8cb" stroke="#b8b8bb" stroke-width="0.35"/>
<circle cx="288.17" cy="333.08" r="1.0" fill="#c8c8cb" stroke="#b8b8bb" stroke-width="0.35"/>
<circle cx="293.85" cy="333.17" r="1.0" fill="#c8c8cb" stroke="#b8b8bb" stroke-width="0.35"/>
<circle cx="288.63" cy="335.24" r="1.0" fill="#c8c8cb" stroke="#b8b8bb" stroke-width="0.35"/>
<circle cx="294.71" cy="334.85" r="1.0" fill="#c8c8cb" stroke="#b8b8bb" stroke-width="0.35"/>
<circle cx="297.10" cy="335.38" r="1.0" fill="#c8c8cb" stroke="#b8b8bb" stroke-width="0.35"/>
<circle cx="288.81" cy="337.07" r="1.0" fill="#c8c8cb" stroke="#b8b8bb" stroke-width="0.35"/>
<circle cx="291.05" cy="337.75" r="1.0" fill="#c8c8cb" stroke="#b8b8bb" stroke-width="0.35"/>
<circle cx="294.19" cy="337.72" r="1.0" fill="#c8c8cb" stroke="#b8b8bb" stroke-width="0.35"/>
<circle cx="296.76" cy="337.02" r="1.0" fill="#c8c8cb" stroke="#b8b8bb" stroke-width="0.35"/>
<circle cx="289.59" cy="339.47" r="1.0" fill="#c8c8cb" stroke="#b8b8bb" stroke-width="0.35"/>
<circle cx="291.87" cy="339.79" r="1.0" fill="#c8c8cb" stroke="#b8b8bb" stroke-width="0.35"/>
<circle cx="293.79" cy="339.57" r="1.0" fill="#c8c8cb" stroke="#b8b8bb" stroke-width="0.35"/>
<circle cx="292.95" cy="342.51" r="1.0" fill="#c8c8cb" stroke="#b8b8bb" stroke-width="0.35"/>
<circle cx="295.69" cy="342.52" r="1.0" fill="#c8c8cb" stroke="#b8b8bb" stroke-width="0.35"/>
<circle cx="293.15" cy="345.12" r="1.0" fill="#c8c8cb" stroke="#b8b8bb" stroke-width="0.35"/>
<circle cx="295.23" cy="347.23" r="1.0" fill="#c8c8cb" stroke="#b8b8bb" stroke-width="0.35"/>
<circle cx="289.71" cy="349.57" r="1.0" fill="#c8c8cb" stroke="#b8b8bb" stroke-width="0.35"/>
<circle cx="293.23" cy="349.43" r="1.0" fill="#c8c8cb" stroke="#b8b8bb" stroke-width="0.35"/>
<circle cx="293.63" cy="351.56" r="1.0" fill="#c8c8cb" stroke="#b8b8bb" stroke-width="0.35"/>
<circle cx="292.97" cy="354.02" r="1.0" fill="#c8c8cb" stroke="#b8b8bb" stroke-width="0.35"/>
<circle cx="292.48" cy="356.41" r="1.0" fill="#c8c8cb" stroke="#b8b8bb" stroke-width="0.35"/>
<line x1="285.70" y1="331.30" x2="299.90" y2="331.30" stroke="#2a2a2a" stroke-width="1.2" />
<line x1="353.00" y1="284.50" x2="353.00" y2="396.10" stroke="#151515" stroke-width="1.35" />
<line x1="352.35" y1="395.50" x2="424.70" y2="395.50" stroke="#151515" stroke-width="1.35" />
<line x1="367.80" y1="395.50" x2="367.80" y2="398.70" stroke="#1a1a1a" stroke-width="1.0" />
<line x1="388.80" y1="395.50" x2="388.80" y2="398.70" stroke="#1a1a1a" stroke-width="1.0" />
<line x1="410.50" y1="395.50" x2="410.50" y2="398.70" stroke="#1a1a1a" stroke-width="1.0" />
<line x1="349.80" y1="287.72" x2="353.00" y2="287.72" stroke="#1a1a1a" stroke-width="1.0" />
<text x="346.50" y="290.57" font-size="8.0" text-anchor="end" font-weight="normal" font-style="normal" fill="#1a1a1a" class="tk">8</text>
<line x1="349.80" y1="309.24" x2="353.00" y2="309.24" stroke="#1a1a1a" stroke-width="1.0" />
<text x="346.50" y="312.09" font-size="8.0" text-anchor="end" font-weight="normal" font-style="normal" fill="#1a1a1a" class="tk">6</text>
<line x1="349.80" y1="330.76" x2="353.00" y2="330.76" stroke="#1a1a1a" stroke-width="1.0" />
<text x="346.50" y="333.61" font-size="8.0" text-anchor="end" font-weight="normal" font-style="normal" fill="#1a1a1a" class="tk">4</text>
<line x1="349.80" y1="352.28" x2="353.00" y2="352.28" stroke="#1a1a1a" stroke-width="1.0" />
<text x="346.50" y="355.13" font-size="8.0" text-anchor="end" font-weight="normal" font-style="normal" fill="#1a1a1a" class="tk">2</text>
<line x1="349.80" y1="373.80" x2="353.00" y2="373.80" stroke="#1a1a1a" stroke-width="1.0" />
<text x="346.50" y="376.65" font-size="8.0" text-anchor="end" font-weight="normal" font-style="normal" fill="#1a1a1a" class="tk">0</text>
<line x1="349.80" y1="395.32" x2="353.00" y2="395.32" stroke="#1a1a1a" stroke-width="1.0" />
<text x="346.50" y="398.17" font-size="8.0" text-anchor="end" font-weight="normal" font-style="normal" fill="#1a1a1a" class="tk">−2</text>
<text x="0" y="0" font-size="8.8" text-anchor="middle" fill="#1a1a1a" class="yl" transform="translate(331.00 342.20) rotate(-90) scale(0.762 1)">Relative <tspan font-style="italic" font-weight="bold">SLFN11</tspan> mRNA (RPKM)</text>
<line x1="353.60" y1="373.80" x2="424.70" y2="373.80" stroke="#2e2e2e" stroke-width="1.3"  stroke-dasharray="1.0 1.15"/>
<text x="370.80" y="405.20" font-size="8.25" text-anchor="end" fill="#1a1a1a" class="xl" transform="rotate(-45 370.80 405.20)">Healthy CD34+</text>
<text x="391.80" y="405.20" font-size="8.25" text-anchor="end" fill="#1a1a1a" class="xl" transform="rotate(-45 391.80 405.20)">Biallelic mut <tspan font-style="italic">CEBPA</tspan></text>
<text x="413.50" y="405.20" font-size="8.25" text-anchor="end" fill="#1a1a1a" class="xl" transform="rotate(-45 413.50 405.20)">No Biallelic mut <tspan font-style="italic">CEBPA</tspan></text>
<line x1="366.60" y1="276.70" x2="411.50" y2="276.70" stroke="#2a2a2a" stroke-width="1.0" />
<circle cx="384.55" cy="272.20" r="0.95" fill="#151515"/>
<circle cx="387.65" cy="272.20" r="0.95" fill="#151515"/>
<circle cx="390.75" cy="272.20" r="0.95" fill="#151515"/>
<circle cx="393.85" cy="272.20" r="0.95" fill="#151515"/>
<line x1="366.60" y1="295.80" x2="389.60" y2="295.80" stroke="#2a2a2a" stroke-width="1.0" />
<text x="378.10" y="291.30" font-size="8.0" text-anchor="middle" font-weight="normal" font-style="normal" fill="#1a1a1a" style="stroke-width:0.3px">NS</text>
<line x1="360.10" y1="307.00" x2="374.90" y2="307.00" stroke="#808080" stroke-width="1.4" />
<circle cx="360.50" cy="303.40" r="0.9" fill="#0f4479" stroke="#072848" stroke-width="0.5"/>
<circle cx="362.30" cy="302.20" r="0.9" fill="#0f4479" stroke="#072848" stroke-width="0.5"/>
<circle cx="364.30" cy="302.80" r="0.9" fill="#0f4479" stroke="#072848" stroke-width="0.5"/>
<circle cx="366.30" cy="302.60" r="0.9" fill="#0f4479" stroke="#072848" stroke-width="0.5"/>
<circle cx="368.30" cy="302.40" r="0.9" fill="#0f4479" stroke="#072848" stroke-width="0.5"/>
<circle cx="370.30" cy="303.00" r="0.9" fill="#0f4479" stroke="#072848" stroke-width="0.5"/>
<circle cx="372.20" cy="303.80" r="0.9" fill="#0f4479" stroke="#072848" stroke-width="0.5"/>
<circle cx="374.00" cy="302.30" r="0.9" fill="#0f4479" stroke="#072848" stroke-width="0.5"/>
<circle cx="365.50" cy="305.20" r="0.9" fill="#0f4479" stroke="#072848" stroke-width="0.5"/>
<circle cx="367.50" cy="304.80" r="0.9" fill="#0f4479" stroke="#072848" stroke-width="0.5"/>
<circle cx="366.50" cy="306.80" r="0.9" fill="#0f4479" stroke="#072848" stroke-width="0.5"/>
<circle cx="368.50" cy="307.20" r="0.9" fill="#0f4479" stroke="#072848" stroke-width="0.5"/>
<circle cx="365.00" cy="307.50" r="0.9" fill="#0f4479" stroke="#072848" stroke-width="0.5"/>
<circle cx="370.50" cy="306.80" r="0.9" fill="#0f4479" stroke="#072848" stroke-width="0.5"/>
<circle cx="363.50" cy="307.00" r="0.9" fill="#0f4479" stroke="#072848" stroke-width="0.5"/>
<circle cx="362.60" cy="310.40" r="0.9" fill="#0f4479" stroke="#072848" stroke-width="0.5"/>
<circle cx="364.60" cy="310.00" r="0.9" fill="#0f4479" stroke="#072848" stroke-width="0.5"/>
<circle cx="366.60" cy="309.60" r="0.9" fill="#0f4479" stroke="#072848" stroke-width="0.5"/>
<circle cx="368.60" cy="309.90" r="0.9" fill="#0f4479" stroke="#072848" stroke-width="0.5"/>
<circle cx="370.60" cy="310.40" r="0.9" fill="#0f4479" stroke="#072848" stroke-width="0.5"/>
<circle cx="372.00" cy="310.10" r="0.9" fill="#0f4479" stroke="#072848" stroke-width="0.5"/>
<circle cx="367.20" cy="311.80" r="0.9" fill="#0f4479" stroke="#072848" stroke-width="0.5"/>
<circle cx="366.80" cy="313.00" r="0.9" fill="#0f4479" stroke="#072848" stroke-width="0.5"/>
<circle cx="366.80" cy="316.40" r="0.9" fill="#0f4479" stroke="#072848" stroke-width="0.5"/>
<circle cx="366.80" cy="319.30" r="0.9" fill="#0f4479" stroke="#072848" stroke-width="0.5"/>
<circle cx="366.80" cy="323.40" r="0.9" fill="#0f4479" stroke="#072848" stroke-width="0.5"/>
<line x1="382.00" y1="312.80" x2="396.40" y2="312.80" stroke="#5e5664" stroke-width="1.5" />
<circle cx="384.50" cy="308.80" r="0.8" fill="#2d1d38" stroke="#1d1024" stroke-width="0.4"/>
<circle cx="388.80" cy="308.80" r="0.8" fill="#2d1d38" stroke="#1d1024" stroke-width="0.4"/>
<circle cx="393.40" cy="308.80" r="0.8" fill="#2d1d38" stroke="#1d1024" stroke-width="0.4"/>
<circle cx="384.00" cy="312.80" r="0.8" fill="#2d1d38" stroke="#1d1024" stroke-width="0.4"/>
<circle cx="388.80" cy="314.80" r="0.8" fill="#2d1d38" stroke="#1d1024" stroke-width="0.4"/>
<circle cx="393.40" cy="314.80" r="0.8" fill="#2d1d38" stroke="#1d1024" stroke-width="0.4"/>
<circle cx="388.80" cy="322.40" r="0.8" fill="#2d1d38" stroke="#1d1024" stroke-width="0.4"/>
<circle cx="411.04" cy="294.75" r="1.1" fill="#c3c3c7" stroke="#b9b9bd" stroke-width="0.4"/>
<circle cx="410.97" cy="296.20" r="1.1" fill="#c3c3c7" stroke="#b9b9bd" stroke-width="0.4"/>
<circle cx="410.81" cy="297.88" r="1.1" fill="#c3c3c7" stroke="#b9b9bd" stroke-width="0.4"/>
<circle cx="410.68" cy="299.15" r="1.1" fill="#c3c3c7" stroke="#b9b9bd" stroke-width="0.4"/>
<circle cx="409.63" cy="300.51" r="1.1" fill="#c3c3c7" stroke="#b9b9bd" stroke-width="0.4"/>
<circle cx="412.15" cy="300.70" r="1.1" fill="#c3c3c7" stroke="#b9b9bd" stroke-width="0.4"/>
<circle cx="408.69" cy="301.76" r="1.1" fill="#c3c3c7" stroke="#b9b9bd" stroke-width="0.4"/>
<circle cx="410.77" cy="301.73" r="1.1" fill="#c3c3c7" stroke="#b9b9bd" stroke-width="0.4"/>
<circle cx="413.06" cy="301.78" r="1.1" fill="#c3c3c7" stroke="#b9b9bd" stroke-width="0.4"/>
<circle cx="408.59" cy="303.11" r="1.1" fill="#c3c3c7" stroke="#b9b9bd" stroke-width="0.4"/>
<circle cx="411.08" cy="303.16" r="1.1" fill="#c3c3c7" stroke="#b9b9bd" stroke-width="0.4"/>
<circle cx="413.40" cy="303.17" r="1.1" fill="#c3c3c7" stroke="#b9b9bd" stroke-width="0.4"/>
<circle cx="407.96" cy="304.51" r="1.1" fill="#c3c3c7" stroke="#b9b9bd" stroke-width="0.4"/>
<circle cx="409.90" cy="304.66" r="1.1" fill="#c3c3c7" stroke="#b9b9bd" stroke-width="0.4"/>
<circle cx="412.14" cy="304.53" r="1.1" fill="#c3c3c7" stroke="#b9b9bd" stroke-width="0.4"/>
<circle cx="413.97" cy="304.82" r="1.1" fill="#c3c3c7" stroke="#b9b9bd" stroke-width="0.4"/>
<circle cx="406.90" cy="306.33" r="1.1" fill="#c3c3c7" stroke="#b9b9bd" stroke-width="0.4"/>
<circle cx="408.57" cy="305.89" r="1.1" fill="#c3c3c7" stroke="#b9b9bd" stroke-width="0.4"/>
<circle cx="410.65" cy="306.29" r="1.1" fill="#c3c3c7" stroke="#b9b9bd" stroke-width="0.4"/>
<circle cx="413.11" cy="305.88" r="1.1" fill="#c3c3c7" stroke="#b9b9bd" stroke-width="0.4"/>
<circle cx="415.17" cy="305.88" r="1.1" fill="#c3c3c7" stroke="#b9b9bd" stroke-width="0.4"/>
<circle cx="406.83" cy="307.67" r="1.1" fill="#c3c3c7" stroke="#b9b9bd" stroke-width="0.4"/>
<circle cx="408.58" cy="307.35" r="1.1" fill="#c3c3c7" stroke="#b9b9bd" stroke-width="0.4"/>
<circle cx="410.99" cy="307.25" r="1.1" fill="#c3c3c7" stroke="#b9b9bd" stroke-width="0.4"/>
<circle cx="412.86" cy="307.45" r="1.1" fill="#c3c3c7" stroke="#b9b9bd" stroke-width="0.4"/>
<circle cx="414.84" cy="307.73" r="1.1" fill="#c3c3c7" stroke="#b9b9bd" stroke-width="0.4"/>
<circle cx="406.53" cy="308.87" r="1.1" fill="#c3c3c7" stroke="#b9b9bd" stroke-width="0.4"/>
<circle cx="408.77" cy="308.72" r="1.1" fill="#c3c3c7" stroke="#b9b9bd" stroke-width="0.4"/>
<circle cx="410.72" cy="309.00" r="1.1" fill="#c3c3c7" stroke="#b9b9bd" stroke-width="0.4"/>
<circle cx="412.80" cy="308.81" r="1.1" fill="#c3c3c7" stroke="#b9b9bd" stroke-width="0.4"/>
<circle cx="415.29" cy="308.80" r="1.1" fill="#c3c3c7" stroke="#b9b9bd" stroke-width="0.4"/>
<circle cx="406.91" cy="310.40" r="1.1" fill="#c3c3c7" stroke="#b9b9bd" stroke-width="0.4"/>
<circle cx="408.65" cy="310.16" r="1.1" fill="#c3c3c7" stroke="#b9b9bd" stroke-width="0.4"/>
<circle cx="410.67" cy="310.28" r="1.1" fill="#c3c3c7" stroke="#b9b9bd" stroke-width="0.4"/>
<circle cx="413.02" cy="310.21" r="1.1" fill="#c3c3c7" stroke="#b9b9bd" stroke-width="0.4"/>
<circle cx="415.17" cy="310.36" r="1.1" fill="#c3c3c7" stroke="#b9b9bd" stroke-width="0.4"/>
<circle cx="406.31" cy="311.92" r="1.1" fill="#c3c3c7" stroke="#b9b9bd" stroke-width="0.4"/>
<circle cx="408.67" cy="311.63" r="1.1" fill="#c3c3c7" stroke="#b9b9bd" stroke-width="0.4"/>
<circle cx="410.86" cy="311.92" r="1.1" fill="#c3c3c7" stroke="#b9b9bd" stroke-width="0.4"/>
<circle cx="413.18" cy="311.63" r="1.1" fill="#c3c3c7" stroke="#b9b9bd" stroke-width="0.4"/>
<circle cx="415.83" cy="311.43" r="1.1" fill="#c3c3c7" stroke="#b9b9bd" stroke-width="0.4"/>
<circle cx="406.10" cy="313.14" r="1.1" fill="#c3c3c7" stroke="#b9b9bd" stroke-width="0.4"/>
<circle cx="408.43" cy="312.93" r="1.1" fill="#c3c3c7" stroke="#b9b9bd" stroke-width="0.4"/>
<circle cx="411.07" cy="313.22" r="1.1" fill="#c3c3c7" stroke="#b9b9bd" stroke-width="0.4"/>
<circle cx="413.02" cy="313.18" r="1.1" fill="#c3c3c7" stroke="#b9b9bd" stroke-width="0.4"/>
<circle cx="415.65" cy="313.10" r="1.1" fill="#c3c3c7" stroke="#b9b9bd" stroke-width="0.4"/>
<circle cx="405.97" cy="314.60" r="1.1" fill="#c3c3c7" stroke="#b9b9bd" stroke-width="0.4"/>
<circle cx="408.56" cy="314.53" r="1.1" fill="#c3c3c7" stroke="#b9b9bd" stroke-width="0.4"/>
<circle cx="410.77" cy="314.54" r="1.1" fill="#c3c3c7" stroke="#b9b9bd" stroke-width="0.4"/>
<circle cx="413.18" cy="314.59" r="1.1" fill="#c3c3c7" stroke="#b9b9bd" stroke-width="0.4"/>
<circle cx="415.59" cy="314.54" r="1.1" fill="#c3c3c7" stroke="#b9b9bd" stroke-width="0.4"/>
<circle cx="405.74" cy="315.90" r="1.1" fill="#c3c3c7" stroke="#b9b9bd" stroke-width="0.4"/>
<circle cx="407.82" cy="315.76" r="1.1" fill="#c3c3c7" stroke="#b9b9bd" stroke-width="0.4"/>
<circle cx="409.84" cy="315.99" r="1.1" fill="#c3c3c7" stroke="#b9b9bd" stroke-width="0.4"/>
<circle cx="411.93" cy="315.74" r="1.1" fill="#c3c3c7" stroke="#b9b9bd" stroke-width="0.4"/>
<circle cx="414.25" cy="315.89" r="1.1" fill="#c3c3c7" stroke="#b9b9bd" stroke-width="0.4"/>
<circle cx="416.14" cy="316.04" r="1.1" fill="#c3c3c7" stroke="#b9b9bd" stroke-width="0.4"/>
<circle cx="406.88" cy="317.26" r="1.1" fill="#c3c3c7" stroke="#b9b9bd" stroke-width="0.4"/>
<circle cx="408.97" cy="317.48" r="1.1" fill="#c3c3c7" stroke="#b9b9bd" stroke-width="0.4"/>
<circle cx="410.67" cy="317.22" r="1.1" fill="#c3c3c7" stroke="#b9b9bd" stroke-width="0.4"/>
<circle cx="413.15" cy="317.09" r="1.1" fill="#c3c3c7" stroke="#b9b9bd" stroke-width="0.4"/>
<circle cx="414.96" cy="317.08" r="1.1" fill="#c3c3c7" stroke="#b9b9bd" stroke-width="0.4"/>
<circle cx="406.73" cy="318.66" r="1.1" fill="#c3c3c7" stroke="#b9b9bd" stroke-width="0.4"/>
<circle cx="408.76" cy="318.93" r="1.1" fill="#c3c3c7" stroke="#b9b9bd" stroke-width="0.4"/>
<circle cx="410.87" cy="318.67" r="1.1" fill="#c3c3c7" stroke="#b9b9bd" stroke-width="0.4"/>
<circle cx="413.12" cy="318.50" r="1.1" fill="#c3c3c7" stroke="#b9b9bd" stroke-width="0.4"/>
<circle cx="415.01" cy="318.69" r="1.1" fill="#c3c3c7" stroke="#b9b9bd" stroke-width="0.4"/>
<circle cx="406.64" cy="320.02" r="1.1" fill="#c3c3c7" stroke="#b9b9bd" stroke-width="0.4"/>
<circle cx="408.66" cy="320.12" r="1.1" fill="#c3c3c7" stroke="#b9b9bd" stroke-width="0.4"/>
<circle cx="410.74" cy="320.19" r="1.1" fill="#c3c3c7" stroke="#b9b9bd" stroke-width="0.4"/>
<circle cx="412.90" cy="319.95" r="1.1" fill="#c3c3c7" stroke="#b9b9bd" stroke-width="0.4"/>
<circle cx="414.88" cy="320.15" r="1.1" fill="#c3c3c7" stroke="#b9b9bd" stroke-width="0.4"/>
<circle cx="406.68" cy="321.63" r="1.1" fill="#c3c3c7" stroke="#b9b9bd" stroke-width="0.4"/>
<circle cx="408.75" cy="321.25" r="1.1" fill="#c3c3c7" stroke="#b9b9bd" stroke-width="0.4"/>
<circle cx="410.83" cy="321.59" r="1.1" fill="#c3c3c7" stroke="#b9b9bd" stroke-width="0.4"/>
<circle cx="412.94" cy="321.55" r="1.1" fill="#c3c3c7" stroke="#b9b9bd" stroke-width="0.4"/>
<circle cx="415.01" cy="321.42" r="1.1" fill="#c3c3c7" stroke="#b9b9bd" stroke-width="0.4"/>
<circle cx="407.23" cy="323.12" r="1.1" fill="#c3c3c7" stroke="#b9b9bd" stroke-width="0.4"/>
<circle cx="409.67" cy="322.96" r="1.1" fill="#c3c3c7" stroke="#b9b9bd" stroke-width="0.4"/>
<circle cx="411.86" cy="323.01" r="1.1" fill="#c3c3c7" stroke="#b9b9bd" stroke-width="0.4"/>
<circle cx="414.42" cy="322.88" r="1.1" fill="#c3c3c7" stroke="#b9b9bd" stroke-width="0.4"/>
<circle cx="407.53" cy="324.33" r="1.1" fill="#c3c3c7" stroke="#b9b9bd" stroke-width="0.4"/>
<circle cx="409.84" cy="324.45" r="1.1" fill="#c3c3c7" stroke="#b9b9bd" stroke-width="0.4"/>
<circle cx="411.93" cy="324.48" r="1.1" fill="#c3c3c7" stroke="#b9b9bd" stroke-width="0.4"/>
<circle cx="414.03" cy="324.29" r="1.1" fill="#c3c3c7" stroke="#b9b9bd" stroke-width="0.4"/>
<circle cx="408.68" cy="325.63" r="1.1" fill="#c3c3c7" stroke="#b9b9bd" stroke-width="0.4"/>
<circle cx="410.99" cy="325.71" r="1.1" fill="#c3c3c7" stroke="#b9b9bd" stroke-width="0.4"/>
<circle cx="413.38" cy="325.49" r="1.1" fill="#c3c3c7" stroke="#b9b9bd" stroke-width="0.4"/>
<circle cx="408.97" cy="326.88" r="1.1" fill="#c3c3c7" stroke="#b9b9bd" stroke-width="0.4"/>
<circle cx="411.03" cy="327.11" r="1.1" fill="#c3c3c7" stroke="#b9b9bd" stroke-width="0.4"/>
<circle cx="413.08" cy="327.19" r="1.1" fill="#c3c3c7" stroke="#b9b9bd" stroke-width="0.4"/>
<circle cx="409.83" cy="328.44" r="1.1" fill="#c3c3c7" stroke="#b9b9bd" stroke-width="0.4"/>
<circle cx="412.32" cy="328.64" r="1.1" fill="#c3c3c7" stroke="#b9b9bd" stroke-width="0.4"/>
<circle cx="409.77" cy="329.89" r="1.1" fill="#c3c3c7" stroke="#b9b9bd" stroke-width="0.4"/>
<circle cx="412.19" cy="329.77" r="1.1" fill="#c3c3c7" stroke="#b9b9bd" stroke-width="0.4"/>
<circle cx="410.78" cy="331.46" r="1.1" fill="#c3c3c7" stroke="#b9b9bd" stroke-width="0.4"/>
<circle cx="410.86" cy="332.46" r="1.1" fill="#c3c3c7" stroke="#b9b9bd" stroke-width="0.4"/>
<circle cx="411.05" cy="334.26" r="1.1" fill="#c3c3c7" stroke="#b9b9bd" stroke-width="0.4"/>
<circle cx="410.68" cy="335.50" r="1.1" fill="#c3c3c7" stroke="#b9b9bd" stroke-width="0.4"/>
<circle cx="410.89" cy="336.92" r="1.1" fill="#c3c3c7" stroke="#b9b9bd" stroke-width="0.4"/>
<circle cx="411.00" cy="343.00" r="0.9" fill="#c4c4c7" stroke="#b9b9bc" stroke-width="0.5"/>
<circle cx="411.00" cy="350.00" r="0.9" fill="#c4c4c7" stroke="#b9b9bc" stroke-width="0.5"/>
<circle cx="410.50" cy="355.00" r="0.9" fill="#c4c4c7" stroke="#b9b9bc" stroke-width="0.5"/>
<circle cx="411.20" cy="360.00" r="0.9" fill="#c4c4c7" stroke="#b9b9bc" stroke-width="0.5"/>
<circle cx="411.00" cy="367.00" r="0.9" fill="#c4c4c7" stroke="#b9b9bc" stroke-width="0.5"/>
<circle cx="411.00" cy="377.00" r="0.9" fill="#c4c4c7" stroke="#b9b9bc" stroke-width="0.5"/>
<line x1="403.80" y1="315.80" x2="417.90" y2="315.80" stroke="#505050" stroke-width="1.9" />
<rect x="0.5" y="0.5" width="519" height="476" fill="none" stroke="#565656" stroke-width="1"/>
</svg>
</body></html>
